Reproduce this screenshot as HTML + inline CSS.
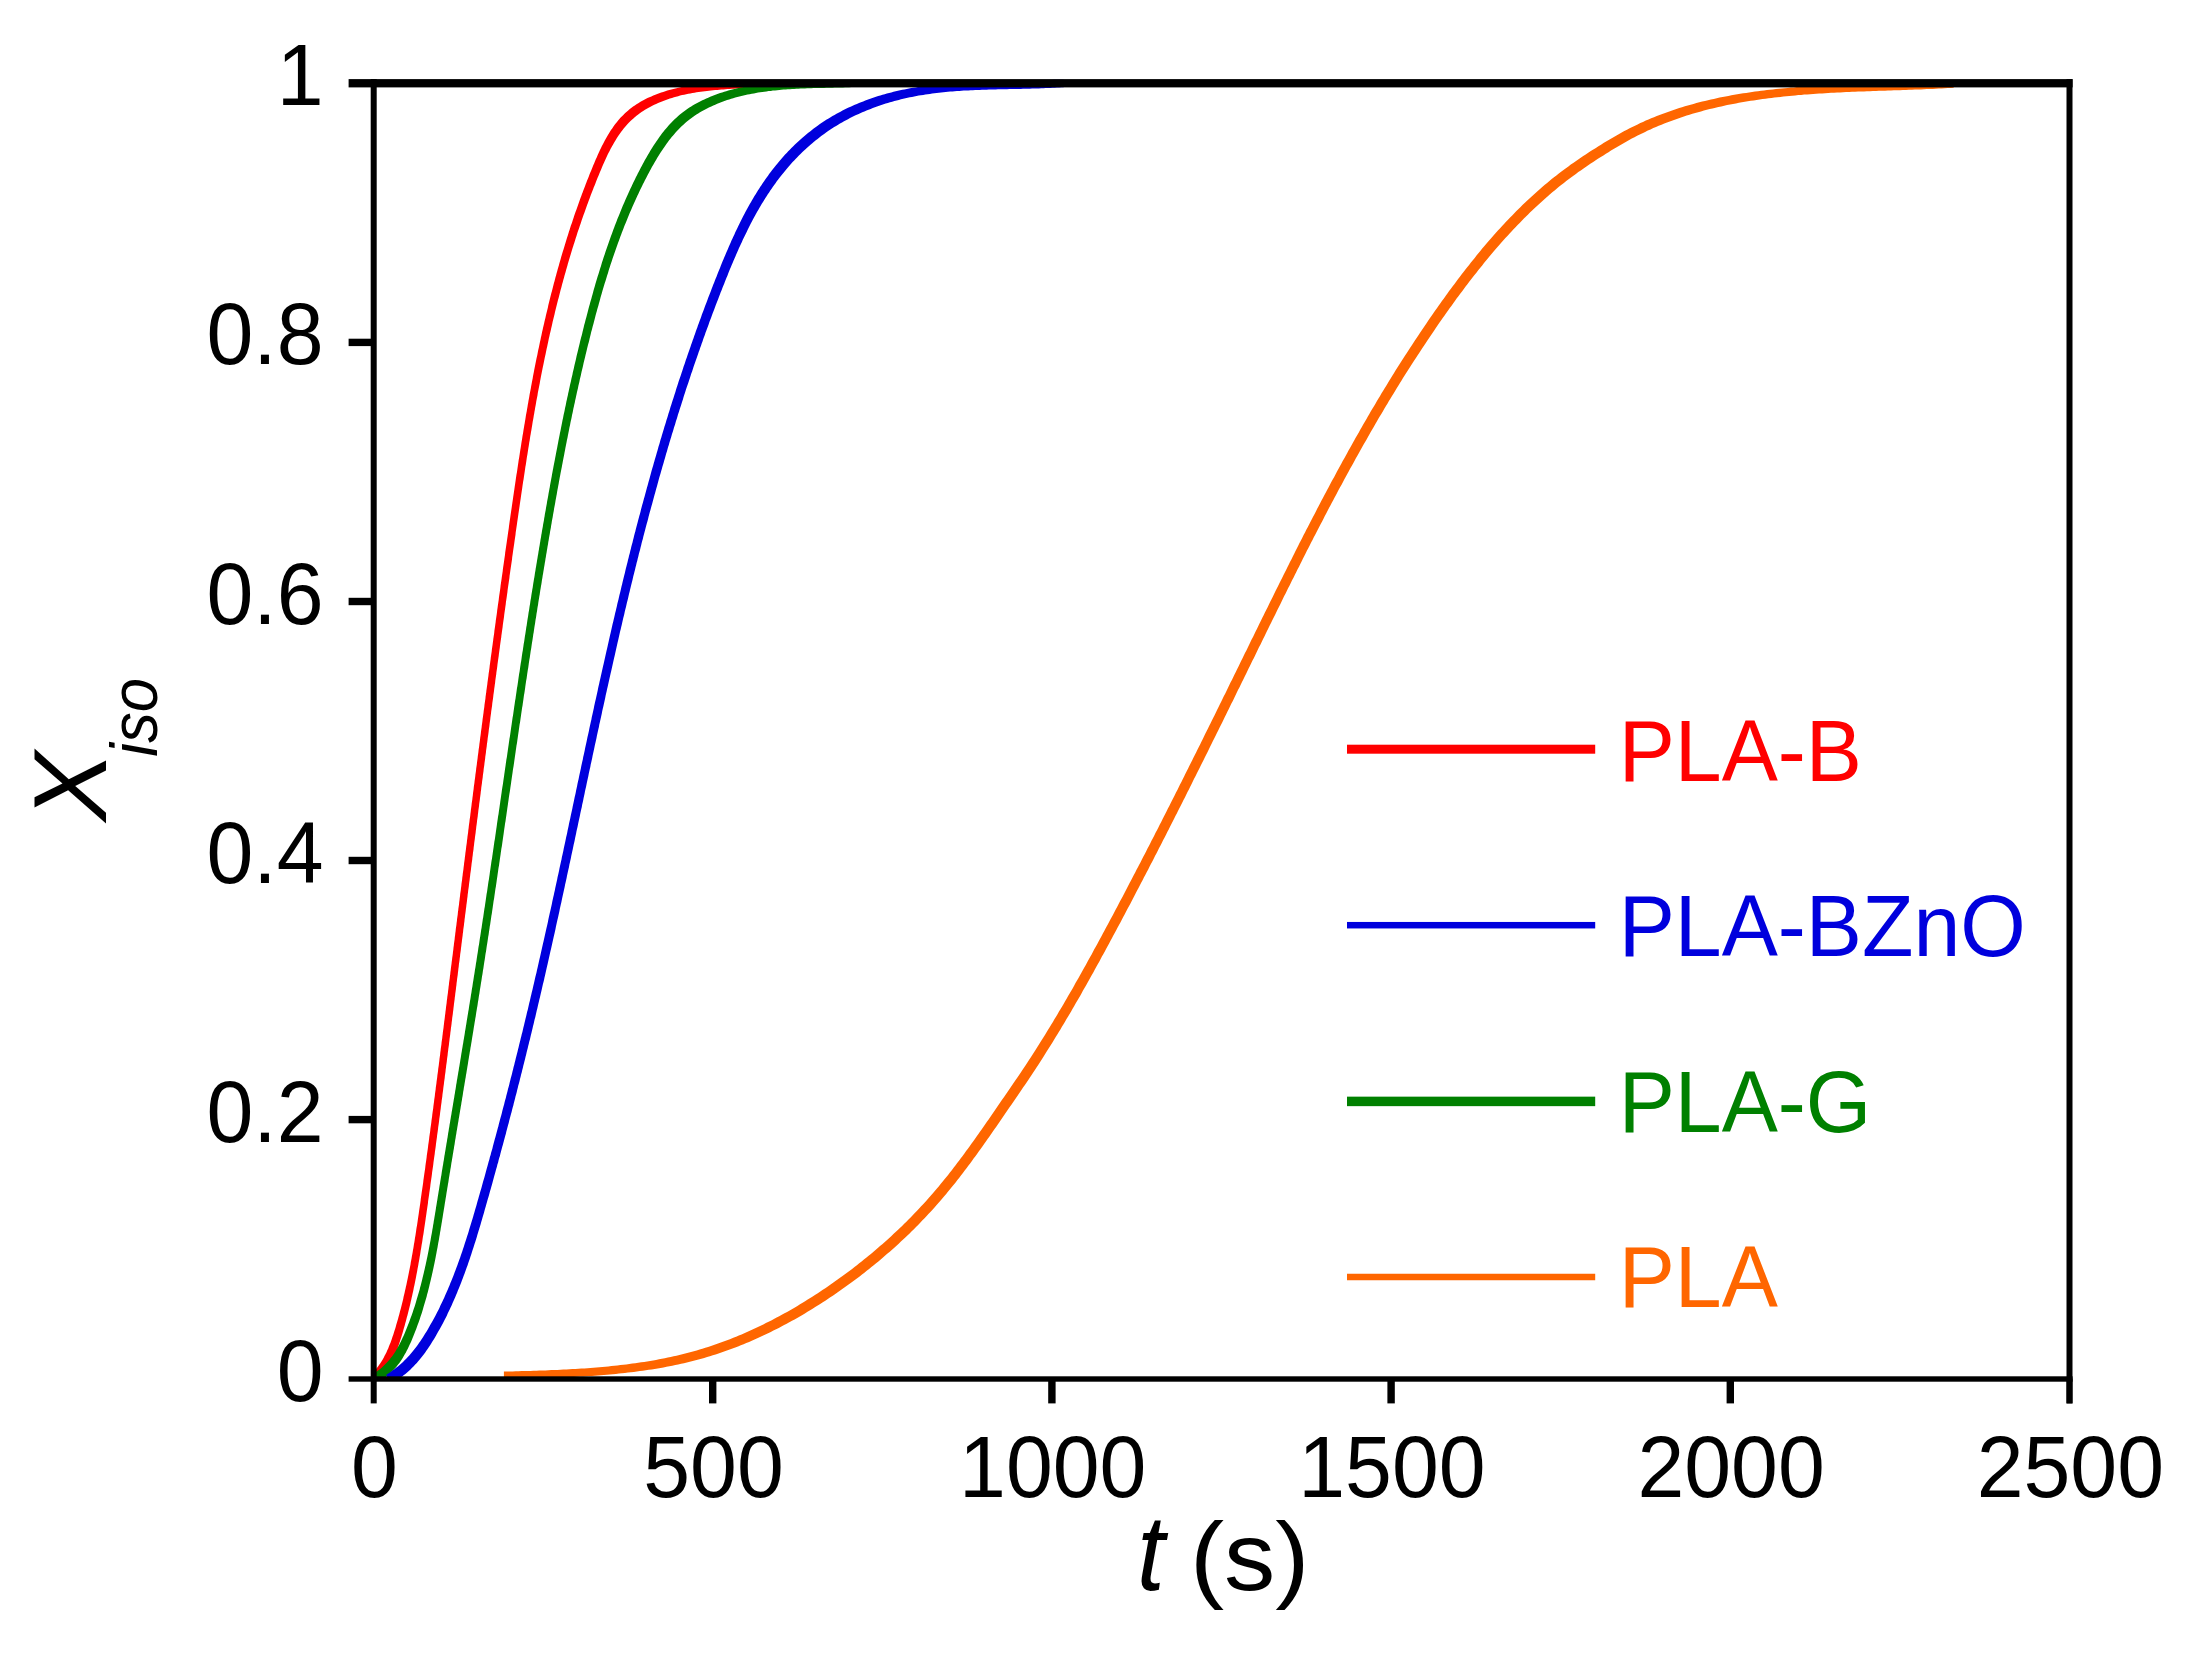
<!DOCTYPE html>
<html lang="en"><head><meta charset="utf-8"><title>Xiso vs t</title>
<style>
html,body{margin:0;padding:0;background:#fff;}
body{width:2200px;height:1654px;overflow:hidden;}
svg{display:block;}
text{font-family:"Liberation Sans",Arial,Helvetica,sans-serif;}
</style></head><body>
<svg xmlns="http://www.w3.org/2000/svg" width="2200" height="1654" viewBox="0 0 2200 1654">
<rect x="0" y="0" width="2200" height="1654" fill="#ffffff"/>

<clipPath id="plotclip"><rect x="373.5" y="79" width="1696.0" height="1301.6"/></clipPath>
<g clip-path="url(#plotclip)">
<polygon points="503.9,1379.1 503.9,1371.6 506.9,1371.5 509.8,1371.5 512.7,1371.4 515.7,1371.3 518.6,1371.2 521.6,1371.1 524.6,1371.0 527.5,1371.0 530.5,1370.9 533.5,1370.8 536.5,1370.7 539.4,1370.6 542.4,1370.5 545.4,1370.4 548.4,1370.2 551.4,1370.1 554.4,1370.0 557.4,1369.9 560.4,1369.7 563.4,1369.6 566.4,1369.4 569.4,1369.3 572.4,1369.1 575.4,1368.9 578.4,1368.8 581.4,1368.6 584.4,1368.4 587.4,1368.2 590.4,1367.9 593.4,1367.7 596.4,1367.5 599.4,1367.2 602.4,1367.0 605.4,1366.7 608.4,1366.4 611.4,1366.1 614.4,1365.8 617.4,1365.5 620.4,1365.1 623.4,1364.8 626.3,1364.4 629.3,1364.0 632.3,1363.6 635.3,1363.2 638.2,1362.8 641.2,1362.3 644.2,1361.9 647.1,1361.4 650.1,1360.9 653.1,1360.4 656.0,1359.9 659.0,1359.3 661.9,1358.8 664.8,1358.2 667.8,1357.6 670.7,1357.0 673.6,1356.3 676.5,1355.7 679.4,1355.0 682.3,1354.3 685.2,1353.5 688.1,1352.8 691.0,1352.0 693.9,1351.2 696.7,1350.4 699.6,1349.6 702.4,1348.7 705.3,1347.8 708.1,1347.0 711.0,1346.0 713.8,1345.1 716.6,1344.1 719.4,1343.1 722.2,1342.1 725.0,1341.0 727.8,1340.0 730.5,1338.9 733.3,1337.8 736.1,1336.7 738.8,1335.6 741.6,1334.4 744.3,1333.2 747.0,1332.0 749.8,1330.8 752.5,1329.6 755.2,1328.3 757.9,1327.0 760.6,1325.8 763.3,1324.5 765.9,1323.1 768.6,1321.8 771.3,1320.4 773.9,1319.0 776.6,1317.6 779.2,1316.2 781.8,1314.8 784.5,1313.3 787.1,1311.9 789.7,1310.4 792.3,1308.9 794.9,1307.4 797.4,1305.9 800.0,1304.3 802.6,1302.8 805.1,1301.2 807.7,1299.6 810.2,1298.0 812.7,1296.4 815.3,1294.8 817.8,1293.2 820.3,1291.5 822.8,1289.8 825.3,1288.2 827.8,1286.5 830.2,1284.8 832.7,1283.0 835.1,1281.3 837.6,1279.6 840.0,1277.8 842.5,1276.1 844.9,1274.3 847.3,1272.5 849.7,1270.7 852.1,1268.9 854.5,1267.0 856.9,1265.2 859.2,1263.3 861.6,1261.5 863.9,1259.6 866.2,1257.7 868.6,1255.8 870.9,1253.9 873.2,1252.0 875.5,1250.0 877.8,1248.1 880.0,1246.1 882.3,1244.2 884.5,1242.2 886.8,1240.2 889.0,1238.2 891.2,1236.2 893.4,1234.1 895.6,1232.1 897.8,1230.0 899.9,1227.9 902.1,1225.9 904.2,1223.8 906.4,1221.7 908.5,1219.5 910.6,1217.4 912.7,1215.3 914.8,1213.1 916.8,1211.0 918.9,1208.8 920.9,1206.6 922.9,1204.4 925.0,1202.2 927.0,1200.0 928.9,1197.8 930.9,1195.5 932.9,1193.3 934.8,1191.0 936.7,1188.7 938.7,1186.4 940.6,1184.1 942.5,1181.8 944.3,1179.5 946.2,1177.2 948.1,1174.9 949.9,1172.5 951.8,1170.2 953.6,1167.8 955.4,1165.4 957.2,1163.1 959.0,1160.7 960.8,1158.3 962.6,1155.9 964.4,1153.5 966.1,1151.1 967.9,1148.7 969.7,1146.2 971.4,1143.8 973.1,1141.4 974.9,1139.0 976.6,1136.5 978.4,1134.1 980.1,1131.6 981.8,1129.2 983.5,1126.7 985.2,1124.3 986.9,1121.8 988.6,1119.4 990.3,1116.9 992.0,1114.4 993.7,1112.0 995.4,1109.5 997.1,1107.0 998.8,1104.6 1000.5,1102.1 1002.2,1099.6 1003.9,1097.2 1005.6,1094.7 1007.3,1092.2 1009.0,1089.8 1010.7,1087.3 1012.4,1084.8 1014.1,1082.3 1015.8,1079.8 1017.4,1077.4 1019.1,1074.9 1020.8,1072.4 1022.4,1069.9 1024.1,1067.4 1025.8,1064.9 1027.4,1062.4 1029.0,1059.9 1030.7,1057.4 1032.3,1054.9 1033.9,1052.4 1035.5,1049.9 1037.2,1047.3 1038.8,1044.8 1040.3,1042.3 1041.9,1039.8 1043.5,1037.2 1045.1,1034.7 1046.7,1032.1 1048.2,1029.6 1049.8,1027.0 1051.3,1024.5 1052.9,1021.9 1054.4,1019.3 1056.0,1016.8 1057.5,1014.2 1059.0,1011.6 1060.6,1009.1 1062.1,1006.5 1063.6,1003.9 1065.1,1001.3 1066.6,998.7 1068.1,996.1 1069.6,993.5 1071.1,991.0 1072.6,988.4 1074.1,985.8 1075.5,983.1 1077.0,980.5 1078.5,977.9 1080.0,975.3 1081.4,972.7 1082.9,970.1 1084.3,967.5 1085.8,964.9 1087.2,962.2 1088.7,959.6 1090.1,957.0 1091.6,954.4 1093.0,951.8 1094.4,949.1 1095.9,946.5 1097.3,943.9 1098.7,941.2 1100.2,938.6 1101.6,936.0 1103.0,933.3 1104.4,930.7 1105.8,928.1 1107.2,925.4 1108.7,922.8 1110.1,920.1 1111.5,917.5 1112.9,914.9 1114.3,912.2 1115.7,909.6 1117.1,906.9 1118.5,904.3 1119.9,901.6 1121.3,899.0 1122.7,896.4 1124.1,893.7 1125.5,891.0 1126.8,888.4 1128.2,885.8 1129.6,883.1 1131.0,880.4 1132.4,877.8 1133.8,875.1 1135.2,872.5 1136.5,869.8 1137.9,867.2 1139.3,864.5 1140.7,861.9 1142.0,859.2 1143.4,856.5 1144.8,853.9 1146.2,851.2 1147.5,848.6 1148.9,845.9 1150.3,843.2 1151.6,840.6 1153.0,837.9 1154.4,835.2 1155.7,832.6 1157.1,829.9 1158.5,827.2 1159.8,824.6 1161.2,821.9 1162.5,819.2 1163.9,816.6 1165.2,813.9 1166.6,811.2 1167.9,808.6 1169.3,805.9 1170.6,803.2 1172.0,800.6 1173.3,797.9 1174.7,795.2 1176.0,792.5 1177.4,789.9 1178.7,787.2 1180.0,784.5 1181.4,781.9 1182.7,779.2 1184.1,776.5 1185.4,773.8 1186.8,771.1 1188.1,768.5 1189.4,765.8 1190.8,763.1 1192.1,760.4 1193.4,757.8 1194.8,755.1 1196.1,752.4 1197.4,749.7 1198.8,747.0 1200.1,744.4 1201.4,741.7 1202.8,739.0 1204.1,736.3 1205.4,733.6 1206.7,731.0 1208.1,728.3 1209.4,725.6 1210.7,722.9 1212.0,720.2 1213.4,717.5 1214.7,714.9 1216.0,712.2 1217.3,709.5 1218.7,706.8 1220.0,704.1 1221.3,701.4 1222.6,698.7 1223.9,696.1 1225.3,693.4 1226.6,690.7 1227.9,688.0 1229.2,685.3 1230.5,682.6 1231.9,679.9 1233.2,677.3 1234.5,674.6 1235.8,671.9 1237.1,669.2 1238.5,666.5 1239.8,663.8 1241.1,661.1 1242.4,658.5 1243.7,655.8 1245.0,653.1 1246.4,650.4 1247.7,647.7 1249.0,645.0 1250.3,642.3 1251.6,639.6 1253.0,637.0 1254.3,634.3 1255.6,631.6 1256.9,628.9 1258.2,626.2 1259.5,623.5 1260.9,620.8 1262.2,618.1 1263.5,615.5 1264.8,612.8 1266.2,610.1 1267.5,607.4 1268.8,604.7 1270.1,602.0 1271.4,599.4 1272.8,596.7 1274.1,594.0 1275.4,591.3 1276.8,588.6 1278.1,585.9 1279.4,583.3 1280.8,580.6 1282.1,577.9 1283.4,575.2 1284.8,572.5 1286.1,569.9 1287.4,567.2 1288.8,564.5 1290.1,561.8 1291.5,559.2 1292.8,556.5 1294.2,553.8 1295.5,551.1 1296.8,548.5 1298.2,545.8 1299.5,543.1 1300.9,540.5 1302.3,537.8 1303.6,535.1 1305.0,532.5 1306.3,529.8 1307.7,527.2 1309.1,524.5 1310.5,521.8 1311.8,519.2 1313.2,516.5 1314.6,513.9 1316.0,511.2 1317.3,508.6 1318.7,505.9 1320.1,503.3 1321.5,500.6 1322.9,498.0 1324.3,495.3 1325.7,492.7 1327.1,490.0 1328.5,487.4 1329.9,484.8 1331.3,482.1 1332.7,479.5 1334.2,476.9 1335.6,474.2 1337.0,471.6 1338.4,469.0 1339.9,466.3 1341.3,463.7 1342.7,461.1 1344.2,458.5 1345.6,455.9 1347.1,453.2 1348.5,450.6 1350.0,448.0 1351.4,445.4 1352.9,442.8 1354.3,440.2 1355.8,437.6 1357.3,435.0 1358.8,432.4 1360.2,429.8 1361.7,427.2 1363.2,424.6 1364.7,422.0 1366.2,419.4 1367.7,416.8 1369.2,414.2 1370.7,411.6 1372.2,409.0 1373.8,406.5 1375.3,403.9 1376.8,401.3 1378.3,398.7 1379.9,396.2 1381.4,393.6 1383.0,391.0 1384.5,388.5 1386.1,385.9 1387.6,383.4 1389.2,380.8 1390.8,378.3 1392.3,375.7 1393.9,373.2 1395.5,370.6 1397.1,368.1 1398.7,365.6 1400.3,363.0 1401.9,360.5 1403.5,358.0 1405.1,355.4 1406.8,352.9 1408.4,350.4 1410.0,347.9 1411.7,345.4 1413.3,342.9 1414.9,340.4 1416.6,337.9 1418.3,335.4 1419.9,332.9 1421.6,330.4 1423.3,327.9 1425.0,325.4 1426.7,322.9 1428.3,320.5 1430.0,318.0 1431.8,315.5 1433.5,313.1 1435.2,310.6 1436.9,308.2 1438.6,305.7 1440.4,303.3 1442.1,300.8 1443.9,298.4 1445.6,296.0 1447.4,293.5 1449.1,291.1 1450.9,288.7 1452.7,286.3 1454.5,283.9 1456.3,281.5 1458.1,279.1 1459.9,276.7 1461.7,274.3 1463.5,272.0 1465.4,269.6 1467.2,267.2 1469.1,264.9 1470.9,262.5 1472.8,260.2 1474.7,257.9 1476.5,255.5 1478.4,253.2 1480.3,250.9 1482.2,248.6 1484.2,246.3 1486.1,244.1 1488.0,241.8 1490.0,239.5 1492.0,237.3 1493.9,235.0 1495.9,232.8 1497.9,230.6 1499.9,228.4 1501.9,226.2 1504.0,224.0 1506.0,221.8 1508.0,219.7 1510.1,217.5 1512.2,215.4 1514.3,213.2 1516.4,211.1 1518.5,209.0 1520.6,206.9 1522.7,204.8 1524.9,202.8 1527.0,200.7 1529.2,198.7 1531.4,196.7 1533.6,194.7 1535.8,192.7 1538.0,190.7 1540.3,188.7 1542.5,186.8 1544.8,184.8 1547.1,182.9 1549.4,181.0 1551.7,179.1 1554.0,177.3 1556.4,175.4 1558.8,173.6 1561.1,171.7 1563.5,169.9 1565.9,168.2 1568.4,166.4 1570.8,164.6 1573.2,162.9 1575.7,161.2 1578.2,159.5 1580.7,157.8 1583.2,156.1 1585.7,154.4 1588.2,152.8 1590.8,151.1 1593.3,149.5 1595.9,147.9 1598.4,146.3 1601.0,144.7 1603.5,143.1 1606.1,141.6 1608.7,140.0 1611.3,138.5 1613.9,137.0 1616.5,135.5 1619.1,134.0 1621.7,132.6 1624.3,131.1 1627.0,129.7 1629.6,128.3 1632.3,127.0 1635.0,125.7 1637.6,124.4 1640.3,123.1 1643.0,121.9 1645.8,120.6 1648.5,119.5 1651.2,118.3 1654.0,117.2 1656.8,116.1 1659.5,115.0 1662.3,113.9 1665.1,112.9 1667.9,111.9 1670.7,110.9 1673.5,110.0 1676.4,109.0 1679.2,108.1 1682.0,107.2 1684.9,106.3 1687.8,105.5 1690.6,104.7 1693.5,103.9 1696.4,103.1 1699.3,102.3 1702.2,101.6 1705.0,100.9 1708.0,100.2 1710.9,99.5 1713.8,98.9 1716.7,98.2 1719.6,97.6 1722.6,97.0 1725.5,96.4 1728.4,95.9 1731.4,95.3 1734.3,94.8 1737.3,94.3 1740.2,93.8 1743.2,93.3 1746.2,92.9 1749.1,92.4 1752.1,92.0 1755.0,91.6 1758.0,91.2 1761.0,90.8 1764.0,90.4 1766.9,90.0 1769.9,89.7 1772.9,89.4 1775.9,89.0 1778.8,88.7 1781.8,88.4 1784.8,88.2 1787.8,87.9 1790.8,87.6 1793.8,87.4 1796.7,87.1 1799.7,86.9 1802.7,86.7 1805.7,86.5 1808.7,86.2 1811.7,86.0 1814.7,85.9 1817.6,85.7 1820.6,85.5 1823.6,85.3 1826.6,85.2 1829.6,85.0 1832.6,84.9 1835.6,84.7 1838.6,84.6 1841.6,84.5 1844.6,84.3 1847.6,84.2 1850.6,84.1 1853.5,84.0 1856.5,83.9 1859.5,83.8 1862.5,83.7 1865.5,83.5 1868.5,83.5 1871.5,83.3 1874.5,83.2 1877.5,83.2 1880.5,83.0 1883.5,83.0 1886.5,82.8 1889.5,82.8 1892.5,82.7 1895.5,82.5 1898.5,82.5 1901.5,82.3 1904.4,82.2 1907.4,82.1 1910.4,82.0 1913.4,81.9 1916.4,81.8 1919.4,81.6 1922.4,81.5 1925.3,81.4 1928.3,81.2 1931.3,81.1 1934.3,80.9 1937.3,80.8 1940.3,80.6 1943.2,80.5 1946.2,80.3 1953.7,80.3 1953.7,87.8 1950.7,88.0 1947.8,88.1 1944.8,88.3 1941.8,88.4 1938.8,88.6 1935.8,88.7 1932.8,88.9 1929.9,89.0 1926.9,89.1 1923.9,89.3 1920.9,89.4 1917.9,89.5 1914.9,89.6 1911.9,89.7 1909.0,89.8 1906.0,90.0 1903.0,90.0 1900.0,90.2 1897.0,90.2 1894.0,90.3 1891.0,90.5 1888.0,90.5 1885.0,90.7 1882.0,90.8 1879.0,90.8 1876.0,91.0 1873.0,91.0 1870.0,91.2 1867.0,91.3 1864.0,91.4 1861.0,91.5 1858.1,91.6 1855.1,91.7 1852.1,91.8 1849.1,92.0 1846.1,92.1 1843.1,92.2 1840.1,92.4 1837.1,92.5 1834.1,92.7 1831.1,92.8 1828.1,93.0 1825.1,93.2 1822.2,93.4 1819.2,93.5 1816.2,93.8 1813.2,94.0 1810.2,94.2 1807.2,94.4 1804.2,94.6 1801.2,94.9 1798.3,95.1 1795.3,95.4 1792.3,95.7 1789.3,95.9 1786.3,96.2 1783.4,96.5 1780.4,96.9 1777.4,97.2 1774.4,97.5 1771.5,97.9 1768.5,98.3 1765.5,98.7 1762.5,99.1 1759.6,99.5 1756.6,99.9 1753.7,100.4 1750.7,100.8 1747.7,101.3 1744.8,101.8 1741.8,102.3 1738.9,102.8 1735.9,103.4 1733.0,103.9 1730.1,104.5 1727.1,105.1 1724.2,105.7 1721.3,106.4 1718.4,107.0 1715.5,107.7 1712.5,108.4 1709.7,109.1 1706.8,109.8 1703.9,110.6 1701.0,111.4 1698.1,112.2 1695.2,113.0 1692.4,113.8 1689.5,114.7 1686.7,115.6 1683.9,116.5 1681.0,117.5 1678.2,118.4 1675.4,119.4 1672.6,120.4 1669.8,121.4 1667.0,122.5 1664.3,123.6 1661.5,124.7 1658.7,125.8 1656.0,127.0 1653.3,128.1 1650.5,129.4 1647.8,130.6 1645.1,131.9 1642.5,133.2 1639.8,134.5 1637.1,135.8 1634.5,137.2 1631.8,138.6 1629.2,140.1 1626.6,141.5 1624.0,143.0 1621.4,144.5 1618.8,146.0 1616.2,147.5 1613.6,149.1 1611.0,150.6 1608.5,152.2 1605.9,153.8 1603.4,155.4 1600.8,157.0 1598.3,158.6 1595.7,160.3 1593.2,161.9 1590.7,163.6 1588.2,165.3 1585.7,167.0 1583.2,168.7 1580.8,170.4 1578.3,172.1 1575.9,173.9 1573.4,175.7 1571.0,177.4 1568.6,179.2 1566.2,181.1 1563.9,182.9 1561.5,184.8 1559.2,186.6 1556.9,188.5 1554.6,190.4 1552.3,192.3 1550.0,194.3 1547.8,196.2 1545.5,198.2 1543.3,200.2 1541.1,202.2 1538.9,204.2 1536.7,206.2 1534.5,208.2 1532.4,210.3 1530.2,212.3 1528.1,214.4 1526.0,216.5 1523.9,218.6 1521.8,220.7 1519.7,222.9 1517.6,225.0 1515.5,227.2 1513.5,229.3 1511.5,231.5 1509.4,233.7 1507.4,235.9 1505.4,238.1 1503.4,240.3 1501.4,242.5 1499.5,244.8 1497.5,247.0 1495.5,249.3 1493.6,251.6 1491.7,253.8 1489.8,256.1 1487.8,258.4 1485.9,260.7 1484.0,263.0 1482.2,265.4 1480.3,267.7 1478.4,270.0 1476.6,272.4 1474.7,274.7 1472.9,277.1 1471.0,279.5 1469.2,281.8 1467.4,284.2 1465.6,286.6 1463.8,289.0 1462.0,291.4 1460.2,293.8 1458.4,296.2 1456.6,298.6 1454.9,301.0 1453.1,303.5 1451.4,305.9 1449.6,308.3 1447.9,310.8 1446.1,313.2 1444.4,315.7 1442.7,318.1 1441.0,320.6 1439.2,323.0 1437.5,325.5 1435.8,328.0 1434.2,330.4 1432.5,332.9 1430.8,335.4 1429.1,337.9 1427.4,340.4 1425.8,342.9 1424.1,345.4 1422.4,347.9 1420.8,350.4 1419.2,352.9 1417.5,355.4 1415.9,357.9 1414.2,360.4 1412.6,362.9 1411.0,365.5 1409.4,368.0 1407.8,370.5 1406.2,373.1 1404.6,375.6 1403.0,378.1 1401.4,380.7 1399.8,383.2 1398.3,385.8 1396.7,388.3 1395.1,390.9 1393.6,393.4 1392.0,396.0 1390.5,398.5 1388.9,401.1 1387.4,403.7 1385.8,406.2 1384.3,408.8 1382.8,411.4 1381.3,414.0 1379.7,416.5 1378.2,419.1 1376.7,421.7 1375.2,424.3 1373.7,426.9 1372.2,429.5 1370.7,432.1 1369.2,434.7 1367.8,437.3 1366.3,439.9 1364.8,442.5 1363.3,445.1 1361.8,447.7 1360.4,450.3 1358.9,452.9 1357.5,455.5 1356.0,458.1 1354.6,460.7 1353.1,463.4 1351.7,466.0 1350.2,468.6 1348.8,471.2 1347.4,473.8 1345.9,476.5 1344.5,479.1 1343.1,481.7 1341.7,484.4 1340.2,487.0 1338.8,489.6 1337.4,492.3 1336.0,494.9 1334.6,497.5 1333.2,500.2 1331.8,502.8 1330.4,505.5 1329.0,508.1 1327.6,510.8 1326.2,513.4 1324.8,516.1 1323.5,518.7 1322.1,521.4 1320.7,524.0 1319.3,526.7 1318.0,529.3 1316.6,532.0 1315.2,534.7 1313.8,537.3 1312.5,540.0 1311.1,542.6 1309.8,545.3 1308.4,548.0 1307.0,550.6 1305.7,553.3 1304.3,556.0 1303.0,558.6 1301.7,561.3 1300.3,564.0 1299.0,566.7 1297.6,569.3 1296.3,572.0 1294.9,574.7 1293.6,577.4 1292.2,580.0 1290.9,582.7 1289.6,585.4 1288.2,588.1 1286.9,590.8 1285.6,593.4 1284.2,596.1 1282.9,598.8 1281.6,601.5 1280.3,604.2 1278.9,606.9 1277.6,609.5 1276.3,612.2 1275.0,614.9 1273.7,617.6 1272.3,620.3 1271.0,623.0 1269.7,625.6 1268.4,628.3 1267.0,631.0 1265.7,633.7 1264.4,636.4 1263.1,639.1 1261.8,641.8 1260.5,644.5 1259.1,647.1 1257.8,649.8 1256.5,652.5 1255.2,655.2 1253.9,657.9 1252.5,660.6 1251.2,663.3 1249.9,666.0 1248.6,668.6 1247.3,671.3 1246.0,674.0 1244.6,676.7 1243.3,679.4 1242.0,682.1 1240.7,684.8 1239.4,687.4 1238.0,690.1 1236.7,692.8 1235.4,695.5 1234.1,698.2 1232.8,700.9 1231.4,703.6 1230.1,706.2 1228.8,708.9 1227.5,711.6 1226.2,714.3 1224.8,717.0 1223.5,719.7 1222.2,722.4 1220.9,725.0 1219.5,727.7 1218.2,730.4 1216.9,733.1 1215.6,735.8 1214.2,738.5 1212.9,741.1 1211.6,743.8 1210.2,746.5 1208.9,749.2 1207.6,751.9 1206.3,754.5 1204.9,757.2 1203.6,759.9 1202.3,762.6 1200.9,765.2 1199.6,767.9 1198.3,770.6 1196.9,773.3 1195.6,776.0 1194.2,778.6 1192.9,781.3 1191.6,784.0 1190.2,786.7 1188.9,789.4 1187.5,792.0 1186.2,794.7 1184.9,797.4 1183.5,800.0 1182.2,802.7 1180.8,805.4 1179.5,808.1 1178.1,810.7 1176.8,813.4 1175.4,816.1 1174.1,818.7 1172.7,821.4 1171.4,824.1 1170.0,826.8 1168.7,829.4 1167.3,832.1 1166.0,834.8 1164.6,837.4 1163.2,840.1 1161.9,842.7 1160.5,845.4 1159.1,848.1 1157.8,850.7 1156.4,853.4 1155.0,856.1 1153.7,858.7 1152.3,861.4 1150.9,864.0 1149.5,866.7 1148.2,869.4 1146.8,872.0 1145.4,874.7 1144.0,877.3 1142.7,880.0 1141.3,882.6 1139.9,885.3 1138.5,887.9 1137.1,890.6 1135.7,893.2 1134.3,895.9 1133.0,898.5 1131.6,901.2 1130.2,903.9 1128.8,906.5 1127.4,909.1 1126.0,911.8 1124.6,914.4 1123.2,917.1 1121.8,919.7 1120.4,922.4 1119.0,925.0 1117.6,927.6 1116.2,930.3 1114.7,932.9 1113.3,935.6 1111.9,938.2 1110.5,940.8 1109.1,943.5 1107.7,946.1 1106.2,948.7 1104.8,951.4 1103.4,954.0 1101.9,956.6 1100.5,959.3 1099.1,961.9 1097.6,964.5 1096.2,967.1 1094.7,969.8 1093.3,972.4 1091.8,975.0 1090.4,977.6 1088.9,980.2 1087.5,982.8 1086.0,985.4 1084.5,988.0 1083.0,990.6 1081.6,993.2 1080.1,995.9 1078.6,998.5 1077.1,1001.0 1075.6,1003.6 1074.1,1006.2 1072.6,1008.8 1071.1,1011.4 1069.6,1014.0 1068.1,1016.6 1066.5,1019.1 1065.0,1021.7 1063.5,1024.3 1061.9,1026.8 1060.4,1029.4 1058.8,1032.0 1057.3,1034.5 1055.7,1037.1 1054.2,1039.6 1052.6,1042.2 1051.0,1044.7 1049.4,1047.2 1047.8,1049.8 1046.2,1052.3 1044.7,1054.8 1043.0,1057.4 1041.4,1059.9 1039.8,1062.4 1038.2,1064.9 1036.5,1067.4 1034.9,1069.9 1033.2,1072.4 1031.6,1074.9 1029.9,1077.4 1028.3,1079.9 1026.6,1082.4 1024.9,1084.9 1023.2,1087.3 1021.6,1089.8 1019.9,1092.3 1018.2,1094.8 1016.5,1097.2 1014.8,1099.7 1013.1,1102.2 1011.4,1104.7 1009.7,1107.1 1008.0,1109.6 1006.3,1112.1 1004.6,1114.5 1002.9,1117.0 1001.2,1119.5 999.5,1121.9 997.8,1124.4 996.1,1126.9 994.4,1129.3 992.7,1131.8 991.0,1134.2 989.3,1136.7 987.6,1139.1 985.9,1141.6 984.1,1144.0 982.4,1146.5 980.6,1148.9 978.9,1151.3 977.2,1153.8 975.4,1156.2 973.6,1158.6 971.9,1161.0 970.1,1163.4 968.3,1165.8 966.5,1168.2 964.7,1170.6 962.9,1172.9 961.1,1175.3 959.3,1177.7 957.4,1180.0 955.6,1182.4 953.7,1184.7 951.8,1187.0 950.0,1189.3 948.1,1191.6 946.2,1193.9 944.2,1196.2 942.3,1198.5 940.4,1200.8 938.4,1203.0 936.4,1205.3 934.5,1207.5 932.5,1209.7 930.4,1211.9 928.4,1214.1 926.4,1216.3 924.3,1218.5 922.2,1220.6 920.2,1222.8 918.1,1224.9 916.0,1227.0 913.9,1229.2 911.7,1231.3 909.6,1233.4 907.4,1235.4 905.3,1237.5 903.1,1239.6 900.9,1241.6 898.7,1243.7 896.5,1245.7 894.3,1247.7 892.0,1249.7 889.8,1251.7 887.5,1253.6 885.2,1255.6 883.0,1257.5 880.7,1259.5 878.4,1261.4 876.1,1263.3 873.7,1265.2 871.4,1267.1 869.1,1269.0 866.7,1270.8 864.4,1272.7 862.0,1274.5 859.6,1276.4 857.2,1278.2 854.8,1280.0 852.4,1281.8 850.0,1283.6 847.5,1285.3 845.1,1287.1 842.6,1288.8 840.2,1290.5 837.7,1292.3 835.3,1294.0 832.8,1295.7 830.3,1297.3 827.8,1299.0 825.3,1300.7 822.8,1302.3 820.2,1303.9 817.7,1305.5 815.2,1307.1 812.6,1308.7 810.1,1310.3 807.5,1311.8 804.9,1313.4 802.4,1314.9 799.8,1316.4 797.2,1317.9 794.6,1319.4 792.0,1320.8 789.3,1322.3 786.7,1323.7 784.1,1325.1 781.4,1326.5 778.8,1327.9 776.1,1329.3 773.4,1330.6 770.8,1332.0 768.1,1333.3 765.4,1334.5 762.7,1335.8 760.0,1337.1 757.3,1338.3 754.5,1339.5 751.8,1340.7 749.1,1341.9 746.3,1343.1 743.6,1344.2 740.8,1345.3 738.0,1346.4 735.3,1347.5 732.5,1348.5 729.7,1349.6 726.9,1350.6 724.1,1351.6 721.3,1352.6 718.5,1353.5 715.6,1354.5 712.8,1355.3 709.9,1356.2 707.1,1357.1 704.2,1357.9 701.4,1358.8 698.5,1359.5 695.6,1360.3 692.7,1361.0 689.8,1361.8 686.9,1362.5 684.0,1363.2 681.1,1363.8 678.2,1364.5 675.3,1365.1 672.3,1365.7 669.4,1366.3 666.5,1366.8 663.5,1367.4 660.6,1367.9 657.6,1368.4 654.6,1368.9 651.7,1369.4 648.7,1369.8 645.8,1370.3 642.8,1370.7 639.8,1371.1 636.8,1371.5 633.8,1371.9 630.9,1372.3 627.9,1372.6 624.9,1373.0 621.9,1373.3 618.9,1373.6 615.9,1373.9 612.9,1374.2 609.9,1374.5 606.9,1374.7 603.9,1375.0 600.9,1375.2 597.9,1375.4 594.9,1375.7 591.9,1375.9 588.9,1376.1 585.9,1376.3 582.9,1376.4 579.9,1376.6 576.9,1376.8 573.9,1376.9 570.9,1377.1 567.9,1377.2 564.9,1377.4 561.9,1377.5 558.9,1377.6 555.9,1377.8 552.9,1377.9 549.9,1378.0 546.9,1378.1 544.0,1378.2 541.0,1378.3 538.0,1378.4 535.0,1378.5 532.1,1378.5 529.1,1378.6 526.1,1378.7 523.2,1378.8 520.2,1378.9 517.3,1379.0 514.4,1379.0 511.4,1379.1" fill="#ff6600"/>
<polygon points="374.2,1377.9 374.2,1371.2 375.6,1369.6 376.9,1368.0 378.2,1366.3 379.4,1364.6 380.5,1362.9 381.6,1361.2 382.7,1359.4 383.7,1357.7 384.6,1355.8 385.6,1354.0 386.5,1352.2 387.3,1350.3 388.2,1348.4 388.9,1346.5 389.7,1344.6 390.5,1342.7 391.2,1340.7 391.9,1338.8 392.5,1336.8 393.2,1334.9 393.8,1332.9 394.4,1330.9 395.1,1328.9 395.7,1326.9 396.2,1324.9 396.8,1322.9 397.4,1320.9 398.0,1318.9 398.5,1316.9 399.1,1314.9 399.6,1312.9 400.1,1310.9 400.7,1308.9 401.2,1306.9 401.7,1304.9 402.2,1302.9 402.7,1300.9 403.2,1298.9 403.6,1296.8 404.1,1294.8 404.6,1292.8 405.0,1290.8 405.5,1288.8 405.9,1286.7 406.4,1284.7 406.8,1282.7 407.2,1280.7 407.7,1278.6 408.1,1276.6 408.5,1274.6 408.9,1272.5 409.3,1270.5 409.7,1268.5 410.1,1266.4 410.5,1264.4 410.8,1262.3 411.2,1260.3 411.6,1258.3 411.9,1256.2 412.3,1254.2 412.7,1252.1 413.0,1250.1 413.4,1248.0 413.7,1246.0 414.0,1243.9 414.4,1241.9 414.7,1239.9 415.0,1237.8 415.4,1235.8 415.7,1233.7 416.0,1231.7 416.3,1229.6 416.6,1227.5 417.0,1225.5 417.3,1223.4 417.6,1221.4 417.9,1219.3 418.2,1217.3 418.5,1215.2 418.8,1213.2 419.1,1211.1 419.4,1209.1 419.7,1207.0 420.0,1204.9 420.3,1202.9 420.6,1200.8 420.8,1198.8 421.1,1196.7 421.4,1194.7 421.7,1192.6 422.0,1190.5 422.3,1188.5 422.6,1186.4 422.9,1184.4 423.2,1182.3 423.4,1180.2 423.7,1178.2 424.0,1176.1 424.3,1174.1 424.6,1172.0 424.9,1170.0 425.2,1167.9 425.4,1165.9 425.7,1163.8 426.0,1161.7 426.3,1159.7 426.6,1157.6 426.8,1155.6 427.1,1153.5 427.4,1151.5 427.7,1149.4 428.0,1147.3 428.2,1145.3 428.5,1143.2 428.8,1141.2 429.1,1139.1 429.3,1137.0 429.6,1135.0 429.9,1132.9 430.2,1130.9 430.4,1128.8 430.7,1126.8 431.0,1124.7 431.3,1122.6 431.5,1120.6 431.8,1118.5 432.1,1116.5 432.3,1114.4 432.6,1112.3 432.9,1110.3 433.2,1108.2 433.4,1106.2 433.7,1104.1 434.0,1102.1 434.2,1100.0 434.5,1097.9 434.8,1095.9 435.0,1093.8 435.3,1091.8 435.6,1089.7 435.8,1087.6 436.1,1085.6 436.4,1083.5 436.6,1081.5 436.9,1079.4 437.2,1077.3 437.4,1075.3 437.7,1073.2 438.0,1071.2 438.2,1069.1 438.5,1067.1 438.8,1065.0 439.0,1062.9 439.3,1060.9 439.5,1058.8 439.8,1056.8 440.1,1054.7 440.3,1052.6 440.6,1050.6 440.8,1048.5 441.1,1046.5 441.4,1044.4 441.6,1042.3 441.9,1040.3 442.2,1038.2 442.4,1036.2 442.7,1034.1 442.9,1032.0 443.2,1030.0 443.5,1027.9 443.7,1025.9 444.0,1023.8 444.2,1021.7 444.5,1019.7 444.8,1017.6 445.0,1015.6 445.3,1013.5 445.5,1011.4 445.8,1009.4 446.0,1007.3 446.3,1005.3 446.6,1003.2 446.8,1001.1 447.1,999.1 447.3,997.0 447.6,995.0 447.9,992.9 448.1,990.9 448.4,988.8 448.6,986.7 448.9,984.7 449.1,982.6 449.4,980.6 449.7,978.5 449.9,976.4 450.2,974.4 450.4,972.3 450.7,970.3 450.9,968.2 451.2,966.1 451.5,964.1 451.7,962.0 452.0,960.0 452.2,957.9 452.5,955.9 452.8,953.8 453.0,951.7 453.3,949.7 453.5,947.6 453.8,945.6 454.0,943.5 454.3,941.4 454.6,939.4 454.8,937.3 455.1,935.3 455.3,933.2 455.6,931.2 455.8,929.1 456.1,927.0 456.4,925.0 456.6,922.9 456.9,920.9 457.1,918.8 457.4,916.8 457.7,914.7 457.9,912.6 458.2,910.6 458.4,908.5 458.7,906.5 459.0,904.4 459.2,902.3 459.5,900.3 459.7,898.2 460.0,896.2 460.2,894.1 460.5,892.0 460.8,890.0 461.0,887.9 461.3,885.9 461.5,883.8 461.8,881.8 462.1,879.7 462.3,877.6 462.6,875.6 462.8,873.5 463.1,871.5 463.4,869.4 463.6,867.4 463.9,865.3 464.1,863.2 464.4,861.2 464.7,859.1 464.9,857.1 465.2,855.0 465.4,853.0 465.7,850.9 466.0,848.8 466.2,846.8 466.5,844.7 466.8,842.7 467.0,840.6 467.3,838.5 467.5,836.5 467.8,834.4 468.1,832.4 468.3,830.3 468.6,828.3 468.8,826.2 469.1,824.1 469.4,822.1 469.6,820.0 469.9,818.0 470.2,815.9 470.4,813.9 470.7,811.8 470.9,809.8 471.2,807.7 471.5,805.6 471.7,803.6 472.0,801.5 472.3,799.5 472.5,797.4 472.8,795.4 473.0,793.3 473.3,791.2 473.6,789.2 473.8,787.1 474.1,785.1 474.4,783.0 474.6,780.9 474.9,778.9 475.2,776.8 475.4,774.8 475.7,772.7 476.0,770.7 476.2,768.6 476.5,766.5 476.8,764.5 477.0,762.4 477.3,760.4 477.6,758.3 477.8,756.3 478.1,754.2 478.4,752.1 478.6,750.1 478.9,748.0 479.2,746.0 479.4,743.9 479.7,741.9 480.0,739.8 480.2,737.8 480.5,735.7 480.8,733.6 481.0,731.6 481.3,729.5 481.6,727.5 481.8,725.4 482.1,723.4 482.4,721.3 482.6,719.2 482.9,717.2 483.2,715.1 483.5,713.1 483.7,711.0 484.0,708.9 484.3,706.9 484.5,704.8 484.8,702.8 485.1,700.7 485.4,698.7 485.6,696.6 485.9,694.6 486.2,692.5 486.4,690.4 486.7,688.4 487.0,686.3 487.3,684.3 487.5,682.2 487.8,680.2 488.1,678.1 488.4,676.0 488.6,674.0 488.9,671.9 489.2,669.9 489.5,667.8 489.7,665.8 490.0,663.7 490.3,661.6 490.6,659.6 490.8,657.5 491.1,655.5 491.4,653.4 491.7,651.4 491.9,649.3 492.2,647.2 492.5,645.2 492.8,643.1 493.1,641.1 493.3,639.0 493.6,637.0 493.9,634.9 494.2,632.9 494.4,630.8 494.7,628.7 495.0,626.7 495.3,624.6 495.6,622.6 495.8,620.5 496.1,618.5 496.4,616.4 496.7,614.4 497.0,612.3 497.2,610.2 497.5,608.2 497.8,606.1 498.1,604.1 498.4,602.0 498.7,599.9 498.9,597.9 499.2,595.8 499.5,593.8 499.8,591.7 500.1,589.7 500.4,587.6 500.6,585.5 500.9,583.5 501.2,581.4 501.5,579.4 501.8,577.3 502.1,575.3 502.4,573.2 502.7,571.2 502.9,569.1 503.2,567.0 503.5,565.0 503.8,562.9 504.1,560.9 504.4,558.8 504.7,556.8 505.0,554.7 505.2,552.6 505.5,550.6 505.8,548.5 506.1,546.5 506.4,544.4 506.7,542.4 507.0,540.3 507.3,538.2 507.6,536.2 507.9,534.1 508.2,532.1 508.5,530.0 508.8,528.0 509.0,525.9 509.3,523.9 509.6,521.8 509.9,519.7 510.2,517.7 510.5,515.6 510.8,513.6 511.1,511.5 511.4,509.5 511.7,507.4 512.0,505.3 512.3,503.3 512.6,501.2 512.9,499.2 513.2,497.1 513.5,495.1 513.8,493.0 514.1,490.9 514.4,488.9 514.7,486.8 515.0,484.8 515.3,482.7 515.6,480.7 515.9,478.6 516.2,476.6 516.5,474.5 516.9,472.5 517.2,470.4 517.5,468.3 517.8,466.3 518.1,464.2 518.4,462.2 518.7,460.1 519.1,458.1 519.4,456.0 519.7,454.0 520.0,451.9 520.3,449.9 520.7,447.8 521.0,445.8 521.3,443.7 521.6,441.7 522.0,439.6 522.3,437.6 522.6,435.5 523.0,433.5 523.3,431.4 523.6,429.4 524.0,427.3 524.3,425.3 524.7,423.2 525.0,421.2 525.4,419.1 525.7,417.1 526.0,415.0 526.4,413.0 526.8,410.9 527.1,408.9 527.5,406.8 527.8,404.8 528.2,402.8 528.5,400.7 528.9,398.7 529.3,396.6 529.6,394.6 530.0,392.5 530.4,390.5 530.8,388.5 531.1,386.4 531.5,384.4 531.9,382.3 532.3,380.3 532.7,378.3 533.0,376.2 533.4,374.2 533.8,372.2 534.2,370.1 534.6,368.1 535.0,366.1 535.4,364.0 535.8,362.0 536.2,360.0 536.6,357.9 537.1,355.9 537.5,353.9 537.9,351.8 538.3,349.8 538.8,347.8 539.2,345.8 539.6,343.7 540.0,341.7 540.5,339.7 540.9,337.6 541.4,335.6 541.8,333.6 542.2,331.6 542.7,329.5 543.1,327.5 543.6,325.5 544.1,323.5 544.5,321.5 545.0,319.4 545.5,317.4 545.9,315.4 546.4,313.4 546.9,311.4 547.4,309.4 547.9,307.4 548.3,305.3 548.8,303.3 549.3,301.3 549.8,299.3 550.3,297.3 550.8,295.3 551.3,293.3 551.9,291.3 552.4,289.3 552.9,287.3 553.4,285.3 553.9,283.3 554.5,281.3 555.0,279.3 555.5,277.3 556.1,275.3 556.6,273.3 557.2,271.3 557.7,269.3 558.3,267.3 558.9,265.3 559.4,263.3 560.0,261.3 560.6,259.3 561.1,257.3 561.7,255.3 562.3,253.3 562.9,251.3 563.5,249.4 564.1,247.4 564.7,245.4 565.3,243.4 565.9,241.4 566.5,239.5 567.1,237.5 567.8,235.5 568.4,233.5 569.0,231.5 569.7,229.6 570.3,227.6 570.9,225.6 571.6,223.7 572.3,221.7 572.9,219.7 573.6,217.8 574.2,215.8 574.9,213.8 575.6,211.8 576.3,209.9 577.0,207.9 577.7,206.0 578.4,204.0 579.1,202.1 579.8,200.1 580.5,198.1 581.2,196.2 581.9,194.2 582.7,192.3 583.4,190.3 584.1,188.4 584.9,186.4 585.6,184.5 586.4,182.5 587.1,180.6 587.9,178.7 588.7,176.7 589.4,174.8 590.2,172.8 591.0,170.9 591.8,169.0 592.6,167.0 593.4,165.1 594.2,163.2 595.0,161.2 595.8,159.3 596.7,157.4 597.5,155.5 598.4,153.6 599.2,151.7 600.1,149.8 601.0,147.9 601.9,146.1 602.9,144.2 603.8,142.4 604.8,140.6 605.8,138.8 606.8,137.0 607.8,135.2 608.9,133.5 609.9,131.8 611.0,130.1 612.2,128.4 613.3,126.7 614.5,125.1 615.7,123.5 617.0,121.9 618.3,120.3 619.6,118.8 620.9,117.3 622.3,115.9 623.8,114.4 625.2,113.0 626.7,111.7 628.2,110.4 629.8,109.1 631.5,107.8 633.1,106.6 634.8,105.4 636.5,104.3 638.3,103.2 640.1,102.1 641.9,101.0 643.8,100.0 645.6,99.1 647.5,98.1 649.4,97.2 651.4,96.4 653.3,95.5 655.3,94.7 657.2,94.0 659.2,93.2 661.2,92.5 663.2,91.9 665.3,91.2 667.3,90.6 669.3,90.0 671.4,89.5 673.4,89.0 675.4,88.5 677.5,88.0 679.5,87.5 681.6,87.1 683.7,86.7 685.7,86.3 687.8,86.0 689.9,85.6 691.9,85.3 694.0,85.0 696.1,84.7 698.2,84.5 700.2,84.2 702.3,84.0 704.4,83.8 706.5,83.6 708.5,83.4 710.6,83.2 712.6,83.0 714.7,82.8 716.8,82.7 718.8,82.5 720.9,82.4 722.9,82.2 725.0,82.1 727.0,82.0 729.1,81.9 731.1,81.8 733.2,81.7 735.2,81.6 737.3,81.5 739.3,81.4 741.4,81.3 743.4,81.2 745.5,81.2 747.5,81.1 749.6,81.0 751.6,81.0 753.7,80.9 755.8,80.8 757.8,80.8 759.9,80.7 762.0,80.7 764.0,80.6 766.1,80.5 768.2,80.5 770.3,80.4 772.4,80.3 774.5,80.3 776.6,80.2 783.3,80.2 783.3,86.9 781.2,87.0 779.1,87.0 777.0,87.1 774.9,87.2 772.8,87.2 770.7,87.3 768.7,87.3 766.6,87.4 764.5,87.5 762.5,87.5 760.4,87.6 758.3,87.7 756.3,87.7 754.2,87.8 752.2,87.9 750.1,87.9 748.1,88.0 746.0,88.1 744.0,88.2 741.9,88.3 739.9,88.4 737.8,88.5 735.8,88.6 733.7,88.7 731.7,88.8 729.6,88.9 727.6,89.1 725.5,89.2 723.5,89.4 721.4,89.5 719.4,89.7 717.3,89.9 715.2,90.0 713.2,90.2 711.1,90.5 709.0,90.7 707.0,90.9 704.9,91.2 702.8,91.4 700.7,91.7 698.6,92.0 696.6,92.3 694.5,92.7 692.4,93.0 690.4,93.4 688.3,93.8 686.2,94.2 684.2,94.7 682.1,95.1 680.1,95.6 678.1,96.2 676.0,96.7 674.0,97.3 672.0,97.9 669.9,98.5 667.9,99.2 665.9,99.9 663.9,100.7 662.0,101.4 660.0,102.2 658.1,103.1 656.1,103.9 654.2,104.8 652.3,105.8 650.5,106.7 648.6,107.7 646.8,108.8 645.0,109.8 643.2,111.0 641.5,112.1 639.8,113.3 638.2,114.5 636.5,115.8 635.0,117.0 633.4,118.4 631.9,119.7 630.5,121.1 629.0,122.6 627.6,124.0 626.3,125.5 625.0,127.0 623.7,128.6 622.4,130.2 621.2,131.8 620.0,133.4 618.9,135.1 617.7,136.8 616.6,138.5 615.6,140.2 614.5,141.9 613.5,143.7 612.5,145.5 611.5,147.3 610.5,149.1 609.6,150.9 608.6,152.8 607.7,154.6 606.8,156.5 605.9,158.4 605.1,160.3 604.2,162.2 603.4,164.1 602.5,166.0 601.7,167.9 600.9,169.9 600.1,171.8 599.3,173.7 598.5,175.7 597.7,177.6 596.9,179.5 596.1,181.5 595.4,183.4 594.6,185.4 593.8,187.3 593.1,189.2 592.3,191.2 591.6,193.1 590.8,195.1 590.1,197.0 589.4,199.0 588.6,200.9 587.9,202.9 587.2,204.8 586.5,206.8 585.8,208.8 585.1,210.7 584.4,212.7 583.7,214.6 583.0,216.6 582.3,218.5 581.6,220.5 581.0,222.5 580.3,224.4 579.6,226.4 579.0,228.4 578.3,230.3 577.6,232.3 577.0,234.3 576.4,236.3 575.7,238.2 575.1,240.2 574.5,242.2 573.8,244.2 573.2,246.2 572.6,248.1 572.0,250.1 571.4,252.1 570.8,254.1 570.2,256.1 569.6,258.1 569.0,260.0 568.4,262.0 567.8,264.0 567.3,266.0 566.7,268.0 566.1,270.0 565.6,272.0 565.0,274.0 564.4,276.0 563.9,278.0 563.3,280.0 562.8,282.0 562.2,284.0 561.7,286.0 561.2,288.0 560.6,290.0 560.1,292.0 559.6,294.0 559.1,296.0 558.6,298.0 558.0,300.0 557.5,302.0 557.0,304.0 556.5,306.0 556.0,308.0 555.5,310.0 555.0,312.1 554.6,314.1 554.1,316.1 553.6,318.1 553.1,320.1 552.6,322.1 552.2,324.1 551.7,326.2 551.2,328.2 550.8,330.2 550.3,332.2 549.8,334.2 549.4,336.2 548.9,338.3 548.5,340.3 548.1,342.3 547.6,344.4 547.2,346.4 546.7,348.4 546.3,350.4 545.9,352.5 545.5,354.5 545.0,356.5 544.6,358.5 544.2,360.6 543.8,362.6 543.4,364.6 542.9,366.7 542.5,368.7 542.1,370.7 541.7,372.8 541.3,374.8 540.9,376.8 540.5,378.9 540.1,380.9 539.8,382.9 539.4,385.0 539.0,387.0 538.6,389.1 538.2,391.1 537.8,393.1 537.5,395.2 537.1,397.2 536.7,399.2 536.3,401.3 536.0,403.3 535.6,405.4 535.2,407.4 534.9,409.5 534.5,411.5 534.2,413.6 533.8,415.6 533.5,417.6 533.1,419.7 532.7,421.7 532.4,423.8 532.1,425.8 531.7,427.9 531.4,429.9 531.0,432.0 530.7,434.0 530.3,436.1 530.0,438.1 529.7,440.2 529.3,442.2 529.0,444.3 528.7,446.3 528.3,448.4 528.0,450.4 527.7,452.5 527.4,454.5 527.0,456.6 526.7,458.6 526.4,460.7 526.1,462.7 525.8,464.8 525.4,466.8 525.1,468.9 524.8,470.9 524.5,473.0 524.2,475.1 523.9,477.1 523.6,479.2 523.2,481.2 522.9,483.3 522.6,485.3 522.3,487.4 522.0,489.4 521.7,491.5 521.4,493.5 521.1,495.6 520.8,497.7 520.5,499.7 520.2,501.8 519.9,503.8 519.6,505.9 519.3,507.9 519.0,510.0 518.7,512.0 518.4,514.1 518.1,516.2 517.8,518.2 517.5,520.3 517.2,522.3 516.9,524.4 516.6,526.4 516.3,528.5 516.0,530.6 515.7,532.6 515.5,534.7 515.2,536.7 514.9,538.8 514.6,540.8 514.3,542.9 514.0,545.0 513.7,547.0 513.4,549.1 513.1,551.1 512.8,553.2 512.5,555.2 512.2,557.3 512.0,559.4 511.7,561.4 511.4,563.5 511.1,565.5 510.8,567.6 510.5,569.6 510.2,571.7 509.9,573.8 509.6,575.8 509.4,577.9 509.1,579.9 508.8,582.0 508.5,584.0 508.2,586.1 507.9,588.1 507.6,590.2 507.4,592.2 507.1,594.3 506.8,596.4 506.5,598.4 506.2,600.5 505.9,602.5 505.7,604.6 505.4,606.6 505.1,608.7 504.8,610.8 504.5,612.8 504.2,614.9 504.0,616.9 503.7,619.0 503.4,621.1 503.1,623.1 502.8,625.2 502.6,627.2 502.3,629.3 502.0,631.3 501.7,633.4 501.4,635.4 501.2,637.5 500.9,639.6 500.6,641.6 500.3,643.7 500.0,645.7 499.8,647.8 499.5,649.8 499.2,651.9 498.9,654.0 498.7,656.0 498.4,658.1 498.1,660.1 497.8,662.2 497.5,664.2 497.3,666.3 497.0,668.4 496.7,670.4 496.4,672.5 496.2,674.5 495.9,676.6 495.6,678.6 495.3,680.7 495.1,682.8 494.8,684.8 494.5,686.9 494.2,688.9 494.0,691.0 493.7,693.0 493.4,695.1 493.2,697.1 492.9,699.2 492.6,701.3 492.3,703.3 492.1,705.4 491.8,707.4 491.5,709.5 491.2,711.5 491.0,713.6 490.7,715.6 490.4,717.7 490.2,719.8 489.9,721.8 489.6,723.9 489.4,725.9 489.1,728.0 488.8,730.1 488.6,732.1 488.3,734.2 488.0,736.2 487.7,738.3 487.5,740.3 487.2,742.4 486.9,744.5 486.7,746.5 486.4,748.6 486.1,750.6 485.9,752.7 485.6,754.7 485.3,756.8 485.1,758.9 484.8,760.9 484.5,763.0 484.3,765.0 484.0,767.1 483.7,769.1 483.5,771.2 483.2,773.2 482.9,775.3 482.7,777.4 482.4,779.4 482.1,781.5 481.9,783.5 481.6,785.6 481.3,787.6 481.1,789.7 480.8,791.8 480.6,793.8 480.3,795.9 480.0,797.9 479.8,800.0 479.5,802.1 479.2,804.1 479.0,806.2 478.7,808.2 478.4,810.3 478.2,812.3 477.9,814.4 477.7,816.5 477.4,818.5 477.1,820.6 476.9,822.6 476.6,824.7 476.3,826.7 476.1,828.8 475.8,830.9 475.6,832.9 475.3,835.0 475.0,837.0 474.8,839.1 474.5,841.1 474.2,843.2 474.0,845.2 473.7,847.3 473.5,849.4 473.2,851.4 472.9,853.5 472.7,855.5 472.4,857.6 472.2,859.7 471.9,861.7 471.6,863.8 471.4,865.8 471.1,867.9 470.9,869.9 470.6,872.0 470.3,874.1 470.1,876.1 469.8,878.2 469.6,880.2 469.3,882.3 469.0,884.4 468.8,886.4 468.5,888.5 468.2,890.5 468.0,892.6 467.7,894.6 467.5,896.7 467.2,898.8 467.0,900.8 466.7,902.9 466.4,904.9 466.2,907.0 465.9,909.0 465.7,911.1 465.4,913.2 465.1,915.2 464.9,917.3 464.6,919.3 464.4,921.4 464.1,923.5 463.9,925.5 463.6,927.6 463.3,929.6 463.1,931.7 462.8,933.7 462.6,935.8 462.3,937.9 462.0,939.9 461.8,942.0 461.5,944.0 461.3,946.1 461.0,948.1 460.8,950.2 460.5,952.3 460.2,954.3 460.0,956.4 459.7,958.4 459.5,960.5 459.2,962.6 458.9,964.6 458.7,966.7 458.4,968.7 458.2,970.8 457.9,972.9 457.7,974.9 457.4,977.0 457.1,979.0 456.9,981.1 456.6,983.1 456.4,985.2 456.1,987.3 455.9,989.3 455.6,991.4 455.3,993.4 455.1,995.5 454.8,997.6 454.6,999.6 454.3,1001.7 454.0,1003.7 453.8,1005.8 453.5,1007.9 453.3,1009.9 453.0,1012.0 452.8,1014.0 452.5,1016.1 452.2,1018.1 452.0,1020.2 451.7,1022.3 451.5,1024.3 451.2,1026.4 450.9,1028.4 450.7,1030.5 450.4,1032.6 450.2,1034.6 449.9,1036.7 449.6,1038.7 449.4,1040.8 449.1,1042.9 448.9,1044.9 448.6,1047.0 448.3,1049.0 448.1,1051.1 447.8,1053.1 447.6,1055.2 447.3,1057.3 447.0,1059.3 446.8,1061.4 446.5,1063.4 446.2,1065.5 446.0,1067.6 445.7,1069.6 445.5,1071.7 445.2,1073.8 444.9,1075.8 444.7,1077.9 444.4,1079.9 444.1,1082.0 443.9,1084.0 443.6,1086.1 443.3,1088.2 443.1,1090.2 442.8,1092.3 442.5,1094.3 442.3,1096.4 442.0,1098.4 441.7,1100.5 441.5,1102.6 441.2,1104.6 440.9,1106.7 440.7,1108.8 440.4,1110.8 440.1,1112.9 439.9,1114.9 439.6,1117.0 439.3,1119.0 439.1,1121.1 438.8,1123.2 438.5,1125.2 438.2,1127.3 438.0,1129.3 437.7,1131.4 437.4,1133.4 437.1,1135.5 436.9,1137.6 436.6,1139.6 436.3,1141.7 436.0,1143.7 435.8,1145.8 435.5,1147.9 435.2,1149.9 434.9,1152.0 434.7,1154.0 434.4,1156.1 434.1,1158.1 433.8,1160.2 433.5,1162.3 433.3,1164.3 433.0,1166.4 432.7,1168.4 432.4,1170.5 432.1,1172.5 431.9,1174.6 431.6,1176.7 431.3,1178.7 431.0,1180.8 430.7,1182.8 430.4,1184.9 430.2,1186.9 429.9,1189.0 429.6,1191.1 429.3,1193.1 429.0,1195.2 428.7,1197.2 428.4,1199.3 428.1,1201.3 427.9,1203.4 427.6,1205.5 427.3,1207.5 427.0,1209.6 426.7,1211.6 426.4,1213.7 426.1,1215.8 425.8,1217.8 425.5,1219.9 425.2,1221.9 424.9,1224.0 424.6,1226.0 424.3,1228.1 424.0,1230.1 423.7,1232.2 423.4,1234.2 423.0,1236.3 422.7,1238.3 422.4,1240.4 422.1,1242.4 421.7,1244.5 421.4,1246.5 421.1,1248.6 420.7,1250.6 420.4,1252.7 420.1,1254.7 419.7,1256.8 419.4,1258.8 419.0,1260.9 418.6,1262.9 418.3,1265.0 417.9,1267.0 417.5,1269.0 417.2,1271.1 416.8,1273.1 416.4,1275.1 416.0,1277.2 415.6,1279.2 415.2,1281.2 414.8,1283.3 414.4,1285.3 413.9,1287.3 413.5,1289.4 413.1,1291.4 412.6,1293.4 412.2,1295.4 411.7,1297.5 411.3,1299.5 410.8,1301.5 410.4,1303.5 409.9,1305.5 409.4,1307.6 408.9,1309.6 408.4,1311.6 407.9,1313.6 407.4,1315.6 406.8,1317.6 406.3,1319.6 405.8,1321.6 405.2,1323.6 404.7,1325.6 404.1,1327.6 403.5,1329.6 403.0,1331.6 402.4,1333.6 401.8,1335.6 401.2,1337.6 400.5,1339.6 399.9,1341.5 399.2,1343.5 398.6,1345.5 397.9,1347.4 397.2,1349.4 396.4,1351.3 395.7,1353.2 394.9,1355.1 394.0,1357.0 393.2,1358.9 392.3,1360.7 391.4,1362.5 390.4,1364.3 389.4,1366.1 388.3,1367.9 387.2,1369.6 386.1,1371.3 384.9,1373.0 383.6,1374.7 382.3,1376.3 381.0,1377.9" fill="#ff0000"/>
<polygon points="373.8,1380.4 373.8,1373.4 375.6,1372.2 377.4,1371.0 379.1,1369.7 380.8,1368.4 382.4,1367.0 383.9,1365.6 385.4,1364.1 386.9,1362.6 388.3,1361.1 389.6,1359.5 390.9,1357.8 392.2,1356.2 393.4,1354.4 394.6,1352.7 395.7,1350.9 396.8,1349.1 397.8,1347.3 398.9,1345.4 399.8,1343.6 400.8,1341.7 401.7,1339.8 402.6,1337.8 403.5,1335.9 404.4,1333.9 405.2,1331.9 406.0,1330.0 406.8,1328.0 407.6,1326.0 408.4,1324.0 409.2,1322.0 409.9,1320.0 410.6,1318.0 411.4,1316.0 412.1,1314.0 412.8,1312.0 413.4,1310.0 414.1,1308.0 414.8,1305.9 415.4,1303.9 416.0,1301.9 416.6,1299.8 417.2,1297.8 417.8,1295.8 418.4,1293.7 419.0,1291.7 419.6,1289.7 420.1,1287.6 420.7,1285.5 421.2,1283.5 421.7,1281.4 422.2,1279.4 422.7,1277.3 423.2,1275.3 423.7,1273.2 424.2,1271.1 424.7,1269.1 425.1,1267.0 425.6,1264.9 426.0,1262.9 426.5,1260.8 426.9,1258.7 427.4,1256.6 427.8,1254.5 428.2,1252.5 428.6,1250.4 429.0,1248.3 429.4,1246.2 429.8,1244.1 430.2,1242.0 430.6,1240.0 430.9,1237.9 431.3,1235.8 431.7,1233.7 432.1,1231.6 432.4,1229.5 432.8,1227.4 433.1,1225.3 433.5,1223.2 433.8,1221.1 434.2,1219.0 434.5,1216.9 434.9,1214.8 435.2,1212.7 435.6,1210.6 435.9,1208.5 436.2,1206.4 436.6,1204.3 436.9,1202.2 437.3,1200.1 437.6,1198.0 437.9,1195.9 438.3,1193.8 438.6,1191.7 439.0,1189.6 439.3,1187.5 439.6,1185.4 440.0,1183.3 440.3,1181.2 440.7,1179.1 441.0,1177.0 441.4,1174.9 441.7,1172.8 442.0,1170.7 442.4,1168.6 442.7,1166.5 443.1,1164.5 443.4,1162.3 443.8,1160.2 444.1,1158.2 444.4,1156.1 444.8,1154.0 445.1,1151.9 445.5,1149.8 445.8,1147.7 446.2,1145.6 446.5,1143.5 446.9,1141.4 447.2,1139.3 447.6,1137.2 447.9,1135.1 448.2,1133.0 448.6,1130.9 448.9,1128.8 449.3,1126.7 449.6,1124.6 450.0,1122.5 450.3,1120.4 450.7,1118.3 451.0,1116.2 451.4,1114.2 451.7,1112.0 452.1,1110.0 452.4,1107.9 452.8,1105.8 453.1,1103.7 453.5,1101.6 453.8,1099.5 454.2,1097.4 454.5,1095.3 454.9,1093.2 455.2,1091.1 455.6,1089.0 455.9,1086.9 456.2,1084.8 456.6,1082.7 456.9,1080.6 457.3,1078.5 457.6,1076.5 458.0,1074.3 458.3,1072.3 458.7,1070.2 459.0,1068.1 459.4,1066.0 459.7,1063.9 460.1,1061.8 460.4,1059.7 460.8,1057.6 461.1,1055.5 461.4,1053.4 461.8,1051.3 462.1,1049.2 462.5,1047.1 462.8,1045.0 463.2,1042.9 463.5,1040.8 463.9,1038.8 464.2,1036.7 464.6,1034.6 464.9,1032.5 465.2,1030.4 465.6,1028.3 465.9,1026.2 466.3,1024.1 466.6,1022.0 466.9,1019.9 467.3,1017.8 467.6,1015.7 468.0,1013.6 468.3,1011.5 468.7,1009.4 469.0,1007.3 469.3,1005.2 469.7,1003.1 470.0,1001.0 470.4,999.0 470.7,996.9 471.0,994.8 471.4,992.7 471.7,990.6 472.0,988.5 472.4,986.4 472.7,984.3 473.0,982.2 473.4,980.1 473.7,978.0 474.0,975.9 474.4,973.8 474.7,971.7 475.0,969.6 475.4,967.5 475.7,965.4 476.0,963.3 476.4,961.2 476.7,959.1 477.0,957.0 477.3,954.9 477.7,952.8 478.0,950.8 478.3,948.6 478.6,946.5 479.0,944.5 479.3,942.4 479.6,940.3 479.9,938.2 480.3,936.1 480.6,934.0 480.9,931.9 481.2,929.8 481.6,927.7 481.9,925.6 482.2,923.5 482.5,921.4 482.8,919.3 483.2,917.2 483.5,915.1 483.8,913.0 484.1,910.9 484.4,908.8 484.8,906.7 485.1,904.6 485.4,902.5 485.7,900.4 486.0,898.3 486.3,896.2 486.6,894.1 487.0,892.0 487.3,889.9 487.6,887.8 487.9,885.7 488.2,883.6 488.5,881.5 488.9,879.4 489.2,877.3 489.5,875.2 489.8,873.1 490.1,871.0 490.4,868.9 490.7,866.8 491.0,864.7 491.3,862.6 491.6,860.5 492.0,858.4 492.3,856.3 492.6,854.2 492.9,852.1 493.2,850.0 493.5,847.9 493.8,845.8 494.1,843.7 494.4,841.6 494.8,839.5 495.1,837.4 495.4,835.3 495.7,833.2 496.0,831.0 496.3,829.0 496.6,826.9 496.9,824.8 497.2,822.6 497.5,820.5 497.8,818.4 498.1,816.3 498.5,814.2 498.8,812.1 499.1,810.0 499.4,807.9 499.7,805.8 500.0,803.7 500.3,801.6 500.6,799.5 500.9,797.4 501.2,795.3 501.5,793.2 501.8,791.1 502.1,789.0 502.4,786.9 502.8,784.8 503.1,782.7 503.4,780.6 503.7,778.5 504.0,776.4 504.3,774.3 504.6,772.2 504.9,770.1 505.2,768.0 505.5,765.9 505.8,763.8 506.1,761.7 506.4,759.6 506.8,757.5 507.1,755.4 507.4,753.3 507.7,751.2 508.0,749.1 508.3,747.0 508.6,744.9 508.9,742.8 509.2,740.7 509.5,738.6 509.9,736.5 510.2,734.4 510.5,732.3 510.8,730.2 511.1,728.1 511.4,726.0 511.7,723.9 512.0,721.8 512.3,719.7 512.6,717.6 513.0,715.5 513.3,713.4 513.6,711.3 513.9,709.2 514.2,707.1 514.5,705.0 514.8,702.9 515.1,700.8 515.5,698.7 515.8,696.6 516.1,694.5 516.4,692.4 516.7,690.2 517.0,688.1 517.4,686.0 517.7,684.0 518.0,681.9 518.3,679.8 518.6,677.6 518.9,675.5 519.2,673.5 519.6,671.4 519.9,669.2 520.2,667.1 520.5,665.0 520.8,663.0 521.2,660.9 521.5,658.8 521.8,656.6 522.1,654.5 522.4,652.5 522.8,650.4 523.1,648.3 523.4,646.2 523.7,644.1 524.1,642.0 524.4,639.9 524.7,637.8 525.0,635.7 525.4,633.6 525.7,631.5 526.0,629.4 526.3,627.3 526.7,625.2 527.0,623.1 527.3,621.0 527.6,618.9 528.0,616.8 528.3,614.7 528.6,612.6 529.0,610.5 529.3,608.4 529.6,606.3 530.0,604.2 530.3,602.1 530.6,600.0 531.0,597.9 531.3,595.8 531.6,593.7 532.0,591.6 532.3,589.5 532.7,587.4 533.0,585.3 533.3,583.2 533.7,581.1 534.0,579.0 534.4,577.0 534.7,574.9 535.0,572.8 535.4,570.7 535.7,568.6 536.1,566.5 536.4,564.4 536.8,562.3 537.1,560.2 537.5,558.1 537.8,556.0 538.2,553.9 538.5,551.8 538.9,549.7 539.2,547.6 539.6,545.5 539.9,543.4 540.3,541.3 540.6,539.2 541.0,537.2 541.3,535.1 541.7,533.0 542.0,530.9 542.4,528.8 542.8,526.7 543.1,524.6 543.5,522.5 543.9,520.4 544.2,518.3 544.6,516.2 544.9,514.1 545.3,512.1 545.7,510.0 546.0,507.9 546.4,505.8 546.8,503.7 547.1,501.6 547.5,499.5 547.9,497.4 548.3,495.3 548.6,493.2 549.0,491.2 549.4,489.1 549.8,487.0 550.1,484.9 550.5,482.8 550.9,480.7 551.3,478.6 551.7,476.6 552.0,474.5 552.4,472.4 552.8,470.3 553.2,468.2 553.6,466.1 554.0,464.0 554.4,461.9 554.8,459.9 555.2,457.8 555.6,455.7 556.0,453.6 556.4,451.5 556.8,449.4 557.2,447.4 557.6,445.3 558.0,443.2 558.4,441.1 558.8,439.0 559.2,436.9 559.6,434.9 560.0,432.8 560.5,430.7 560.9,428.6 561.3,426.5 561.7,424.5 562.1,422.4 562.5,420.3 563.0,418.2 563.4,416.1 563.8,414.1 564.3,412.0 564.7,409.9 565.1,407.8 565.6,405.8 566.0,403.7 566.4,401.6 566.9,399.5 567.3,397.5 567.8,395.4 568.2,393.3 568.7,391.2 569.1,389.2 569.6,387.1 570.0,385.0 570.5,382.9 571.0,380.9 571.4,378.8 571.9,376.7 572.4,374.7 572.8,372.6 573.3,370.5 573.8,368.5 574.2,366.4 574.7,364.3 575.2,362.3 575.7,360.2 576.2,358.1 576.6,356.1 577.1,354.0 577.6,351.9 578.1,349.9 578.6,347.8 579.1,345.7 579.6,343.7 580.1,341.6 580.6,339.6 581.1,337.5 581.7,335.4 582.2,333.4 582.7,331.3 583.2,329.2 583.7,327.2 584.2,325.1 584.8,323.1 585.3,321.0 585.8,319.0 586.4,316.9 586.9,314.9 587.5,312.8 588.0,310.7 588.5,308.7 589.1,306.6 589.7,304.6 590.2,302.5 590.8,300.5 591.4,298.4 591.9,296.4 592.5,294.4 593.1,292.3 593.6,290.3 594.2,288.2 594.8,286.2 595.4,284.1 596.0,282.1 596.6,280.1 597.2,278.0 597.8,276.0 598.5,274.0 599.1,271.9 599.7,269.9 600.3,267.9 601.0,265.9 601.6,263.8 602.2,261.8 602.9,259.8 603.5,257.8 604.2,255.8 604.9,253.7 605.5,251.7 606.2,249.7 606.9,247.7 607.6,245.7 608.3,243.7 609.0,241.7 609.7,239.7 610.4,237.7 611.1,235.7 611.9,233.7 612.6,231.7 613.3,229.7 614.1,227.7 614.8,225.8 615.6,223.8 616.4,221.8 617.1,219.8 617.9,217.8 618.7,215.9 619.5,213.9 620.3,211.9 621.1,210.0 621.9,208.0 622.7,206.1 623.6,204.1 624.4,202.2 625.2,200.2 626.1,198.3 627.0,196.3 627.8,194.4 628.7,192.5 629.6,190.5 630.5,188.6 631.4,186.7 632.3,184.8 633.2,182.8 634.1,180.9 635.1,179.0 636.0,177.1 637.0,175.2 637.9,173.3 638.9,171.4 639.9,169.5 640.9,167.6 641.9,165.7 642.9,163.8 643.9,162.0 644.9,160.1 646.0,158.2 647.0,156.4 648.1,154.5 649.2,152.7 650.3,150.8 651.4,149.0 652.5,147.2 653.6,145.4 654.8,143.7 656.0,141.9 657.2,140.2 658.4,138.4 659.6,136.7 660.9,135.0 662.1,133.3 663.4,131.7 664.7,130.1 666.1,128.5 667.4,126.9 668.8,125.3 670.2,123.8 671.7,122.3 673.1,120.8 674.6,119.3 676.1,117.9 677.7,116.5 679.3,115.1 680.9,113.8 682.5,112.5 684.2,111.2 685.9,110.0 687.6,108.8 689.4,107.6 691.2,106.5 693.0,105.3 694.8,104.3 696.7,103.2 698.6,102.2 700.5,101.2 702.4,100.3 704.3,99.4 706.3,98.5 708.2,97.7 710.2,96.8 712.2,96.0 714.1,95.3 716.1,94.5 718.1,93.8 720.1,93.1 722.2,92.5 724.2,91.8 726.2,91.2 728.3,90.6 730.3,90.1 732.4,89.5 734.4,89.0 736.5,88.5 738.5,88.0 740.6,87.6 742.7,87.2 744.8,86.8 746.9,86.4 749.0,86.0 751.1,85.6 753.2,85.3 755.3,85.0 757.4,84.7 759.5,84.4 761.6,84.1 763.8,83.9 765.9,83.6 768.0,83.4 770.2,83.2 772.3,83.0 774.4,82.8 776.6,82.6 778.7,82.5 780.8,82.3 783.0,82.2 785.1,82.0 787.2,81.9 789.4,81.8 791.5,81.7 793.7,81.6 795.8,81.5 798.0,81.4 800.1,81.3 802.2,81.3 804.4,81.2 806.5,81.1 808.6,81.1 810.8,81.0 812.9,81.0 815.0,80.9 817.1,80.9 819.2,80.8 821.4,80.8 823.5,80.7 825.6,80.7 827.7,80.6 829.8,80.6 831.9,80.5 834.0,80.5 836.0,80.4 838.1,80.3 840.2,80.3 842.2,80.2 844.3,80.1 846.4,80.0 853.4,80.0 853.4,87.0 851.3,87.1 849.2,87.2 847.2,87.3 845.1,87.3 843.0,87.4 841.0,87.5 838.9,87.5 836.8,87.6 834.7,87.6 832.6,87.7 830.5,87.7 828.4,87.8 826.2,87.8 824.1,87.9 822.0,87.9 819.9,88.0 817.8,88.0 815.6,88.1 813.5,88.1 811.4,88.2 809.2,88.3 807.1,88.3 805.0,88.4 802.8,88.5 800.7,88.6 798.5,88.7 796.4,88.8 794.2,88.9 792.1,89.0 790.0,89.2 787.8,89.3 785.7,89.5 783.6,89.6 781.4,89.8 779.3,90.0 777.2,90.2 775.0,90.4 772.9,90.6 770.8,90.9 768.6,91.1 766.5,91.4 764.4,91.7 762.3,92.0 760.2,92.3 758.1,92.6 756.0,93.0 753.9,93.4 751.8,93.8 749.7,94.2 747.6,94.6 745.5,95.0 743.5,95.5 741.4,96.0 739.4,96.5 737.3,97.1 735.3,97.6 733.2,98.2 731.2,98.8 729.2,99.5 727.1,100.1 725.1,100.8 723.1,101.5 721.1,102.3 719.2,103.0 717.2,103.8 715.2,104.7 713.3,105.5 711.3,106.4 709.4,107.3 707.5,108.2 705.6,109.2 703.7,110.2 701.8,111.3 700.0,112.3 698.2,113.5 696.4,114.6 694.6,115.8 692.9,117.0 691.2,118.2 689.5,119.5 687.9,120.8 686.3,122.1 684.7,123.5 683.1,124.9 681.6,126.3 680.1,127.8 678.7,129.3 677.2,130.8 675.8,132.3 674.4,133.9 673.1,135.5 671.7,137.1 670.4,138.7 669.1,140.3 667.9,142.0 666.6,143.7 665.4,145.4 664.2,147.2 663.0,148.9 661.8,150.7 660.6,152.4 659.5,154.2 658.4,156.0 657.3,157.8 656.2,159.7 655.1,161.5 654.0,163.4 653.0,165.2 651.9,167.1 650.9,169.0 649.9,170.8 648.9,172.7 647.9,174.6 646.9,176.5 645.9,178.4 644.9,180.3 644.0,182.2 643.0,184.1 642.1,186.0 641.1,187.9 640.2,189.8 639.3,191.8 638.4,193.7 637.5,195.6 636.6,197.5 635.7,199.5 634.8,201.4 634.0,203.3 633.1,205.3 632.2,207.2 631.4,209.2 630.6,211.1 629.7,213.1 628.9,215.0 628.1,217.0 627.3,218.9 626.5,220.9 625.7,222.9 624.9,224.8 624.1,226.8 623.4,228.8 622.6,230.8 621.8,232.8 621.1,234.7 620.3,236.7 619.6,238.7 618.9,240.7 618.1,242.7 617.4,244.7 616.7,246.7 616.0,248.7 615.3,250.7 614.6,252.7 613.9,254.7 613.2,256.7 612.5,258.7 611.9,260.7 611.2,262.8 610.5,264.8 609.9,266.8 609.2,268.8 608.6,270.8 608.0,272.9 607.3,274.9 606.7,276.9 606.1,278.9 605.5,281.0 604.8,283.0 604.2,285.0 603.6,287.1 603.0,289.1 602.4,291.1 601.8,293.2 601.2,295.2 600.6,297.3 600.1,299.3 599.5,301.4 598.9,303.4 598.4,305.4 597.8,307.5 597.2,309.5 596.7,311.6 596.1,313.6 595.5,315.7 595.0,317.7 594.5,319.8 593.9,321.9 593.4,323.9 592.8,326.0 592.3,328.0 591.8,330.1 591.2,332.1 590.7,334.2 590.2,336.2 589.7,338.3 589.2,340.4 588.7,342.4 588.1,344.5 587.6,346.6 587.1,348.6 586.6,350.7 586.1,352.7 585.6,354.8 585.1,356.9 584.6,358.9 584.1,361.0 583.6,363.1 583.2,365.1 582.7,367.2 582.2,369.3 581.7,371.3 581.2,373.4 580.8,375.5 580.3,377.5 579.8,379.6 579.4,381.7 578.9,383.7 578.4,385.8 578.0,387.9 577.5,389.9 577.0,392.0 576.6,394.1 576.1,396.2 575.7,398.2 575.2,400.3 574.8,402.4 574.3,404.5 573.9,406.5 573.4,408.6 573.0,410.7 572.6,412.8 572.1,414.8 571.7,416.9 571.3,419.0 570.8,421.1 570.4,423.1 570.0,425.2 569.5,427.3 569.1,429.4 568.7,431.5 568.3,433.5 567.9,435.6 567.5,437.7 567.0,439.8 566.6,441.9 566.2,443.9 565.8,446.0 565.4,448.1 565.0,450.2 564.6,452.3 564.2,454.4 563.8,456.4 563.4,458.5 563.0,460.6 562.6,462.7 562.2,464.8 561.8,466.9 561.4,468.9 561.0,471.0 560.6,473.1 560.2,475.2 559.8,477.3 559.4,479.4 559.0,481.5 558.7,483.6 558.3,485.6 557.9,487.7 557.5,489.8 557.1,491.9 556.8,494.0 556.4,496.1 556.0,498.2 555.6,500.2 555.3,502.3 554.9,504.4 554.5,506.5 554.1,508.6 553.8,510.7 553.4,512.8 553.0,514.9 552.7,517.0 552.3,519.1 551.9,521.1 551.6,523.2 551.2,525.3 550.9,527.4 550.5,529.5 550.1,531.6 549.8,533.7 549.4,535.8 549.0,537.9 548.7,540.0 548.3,542.1 548.0,544.2 547.6,546.2 547.3,548.3 546.9,550.4 546.6,552.5 546.2,554.6 545.9,556.7 545.5,558.8 545.2,560.9 544.8,563.0 544.5,565.1 544.1,567.2 543.8,569.3 543.4,571.4 543.1,573.5 542.7,575.6 542.4,577.7 542.0,579.8 541.7,581.9 541.4,584.0 541.0,586.0 540.7,588.1 540.3,590.2 540.0,592.3 539.7,594.4 539.3,596.5 539.0,598.6 538.6,600.7 538.3,602.8 538.0,604.9 537.6,607.0 537.3,609.1 537.0,611.2 536.6,613.3 536.3,615.4 536.0,617.5 535.6,619.6 535.3,621.7 535.0,623.8 534.6,625.9 534.3,628.0 534.0,630.1 533.7,632.2 533.3,634.3 533.0,636.4 532.7,638.5 532.4,640.6 532.0,642.7 531.7,644.8 531.4,646.9 531.1,649.0 530.7,651.1 530.4,653.2 530.1,655.3 529.8,657.4 529.4,659.5 529.1,661.5 528.8,663.6 528.5,665.8 528.2,667.9 527.8,670.0 527.5,672.0 527.2,674.1 526.9,676.2 526.6,678.4 526.2,680.5 525.9,682.5 525.6,684.6 525.3,686.8 525.0,688.9 524.7,691.0 524.4,693.0 524.0,695.1 523.7,697.2 523.4,699.4 523.1,701.5 522.8,703.6 522.5,705.7 522.1,707.8 521.8,709.9 521.5,712.0 521.2,714.1 520.9,716.2 520.6,718.3 520.3,720.4 520.0,722.5 519.6,724.6 519.3,726.7 519.0,728.8 518.7,730.9 518.4,733.0 518.1,735.1 517.8,737.2 517.5,739.3 517.2,741.4 516.9,743.5 516.5,745.6 516.2,747.7 515.9,749.8 515.6,751.9 515.3,754.0 515.0,756.1 514.7,758.2 514.4,760.3 514.1,762.4 513.8,764.5 513.5,766.6 513.1,768.7 512.8,770.8 512.5,772.9 512.2,775.0 511.9,777.1 511.6,779.2 511.3,781.3 511.0,783.4 510.7,785.5 510.4,787.6 510.1,789.7 509.8,791.8 509.4,793.9 509.1,796.0 508.8,798.1 508.5,800.2 508.2,802.3 507.9,804.4 507.6,806.5 507.3,808.6 507.0,810.7 506.7,812.8 506.4,814.9 506.1,817.0 505.8,819.1 505.5,821.2 505.1,823.3 504.8,825.4 504.5,827.5 504.2,829.6 503.9,831.8 503.6,833.9 503.3,836.0 503.0,838.0 502.7,840.2 502.4,842.3 502.1,844.4 501.8,846.5 501.4,848.6 501.1,850.7 500.8,852.8 500.5,854.9 500.2,857.0 499.9,859.1 499.6,861.2 499.3,863.3 499.0,865.4 498.6,867.5 498.3,869.6 498.0,871.7 497.7,873.8 497.4,875.9 497.1,878.0 496.8,880.1 496.5,882.2 496.2,884.3 495.9,886.4 495.5,888.5 495.2,890.6 494.9,892.7 494.6,894.8 494.3,896.9 494.0,899.0 493.6,901.1 493.3,903.2 493.0,905.3 492.7,907.4 492.4,909.5 492.1,911.6 491.8,913.7 491.4,915.8 491.1,917.9 490.8,920.0 490.5,922.1 490.2,924.2 489.8,926.3 489.5,928.4 489.2,930.5 488.9,932.6 488.6,934.7 488.2,936.8 487.9,938.9 487.6,941.0 487.3,943.1 486.9,945.2 486.6,947.3 486.3,949.4 486.0,951.5 485.6,953.5 485.3,955.6 485.0,957.8 484.7,959.8 484.3,961.9 484.0,964.0 483.7,966.1 483.4,968.2 483.0,970.3 482.7,972.4 482.4,974.5 482.0,976.6 481.7,978.7 481.4,980.8 481.0,982.9 480.7,985.0 480.4,987.1 480.0,989.2 479.7,991.3 479.4,993.4 479.0,995.5 478.7,997.6 478.4,999.7 478.0,1001.8 477.7,1003.9 477.4,1006.0 477.0,1008.0 476.7,1010.1 476.3,1012.2 476.0,1014.3 475.7,1016.4 475.3,1018.5 475.0,1020.6 474.6,1022.7 474.3,1024.8 473.9,1026.9 473.6,1029.0 473.3,1031.1 472.9,1033.2 472.6,1035.3 472.2,1037.4 471.9,1039.5 471.6,1041.6 471.2,1043.7 470.9,1045.8 470.5,1047.8 470.2,1049.9 469.8,1052.0 469.5,1054.1 469.1,1056.2 468.8,1058.3 468.4,1060.4 468.1,1062.5 467.8,1064.6 467.4,1066.7 467.1,1068.8 466.7,1070.9 466.4,1073.0 466.0,1075.1 465.7,1077.2 465.3,1079.3 465.0,1081.3 464.6,1083.5 464.3,1085.5 463.9,1087.6 463.6,1089.7 463.2,1091.8 462.9,1093.9 462.6,1096.0 462.2,1098.1 461.9,1100.2 461.5,1102.3 461.2,1104.4 460.8,1106.5 460.5,1108.6 460.1,1110.7 459.8,1112.8 459.4,1114.9 459.1,1117.0 458.7,1119.0 458.4,1121.2 458.0,1123.2 457.7,1125.3 457.3,1127.4 457.0,1129.5 456.6,1131.6 456.3,1133.7 455.9,1135.8 455.6,1137.9 455.2,1140.0 454.9,1142.1 454.6,1144.2 454.2,1146.3 453.9,1148.4 453.5,1150.5 453.2,1152.6 452.8,1154.7 452.5,1156.8 452.1,1158.9 451.8,1161.0 451.4,1163.1 451.1,1165.2 450.8,1167.2 450.4,1169.3 450.1,1171.5 449.7,1173.5 449.4,1175.6 449.0,1177.7 448.7,1179.8 448.4,1181.9 448.0,1184.0 447.7,1186.1 447.3,1188.2 447.0,1190.3 446.6,1192.4 446.3,1194.5 446.0,1196.6 445.6,1198.7 445.3,1200.8 444.9,1202.9 444.6,1205.0 444.3,1207.1 443.9,1209.2 443.6,1211.3 443.2,1213.4 442.9,1215.5 442.6,1217.6 442.2,1219.7 441.9,1221.8 441.5,1223.9 441.2,1226.0 440.8,1228.1 440.5,1230.2 440.1,1232.3 439.8,1234.4 439.4,1236.5 439.1,1238.6 438.7,1240.7 438.3,1242.8 437.9,1244.9 437.6,1247.0 437.2,1249.0 436.8,1251.1 436.4,1253.2 436.0,1255.3 435.6,1257.4 435.2,1259.5 434.8,1261.5 434.4,1263.6 433.9,1265.7 433.5,1267.8 433.0,1269.9 432.6,1271.9 432.1,1274.0 431.7,1276.1 431.2,1278.1 430.7,1280.2 430.2,1282.3 429.7,1284.3 429.2,1286.4 428.7,1288.4 428.2,1290.5 427.7,1292.5 427.1,1294.6 426.6,1296.7 426.0,1298.7 425.4,1300.7 424.8,1302.8 424.2,1304.8 423.6,1306.8 423.0,1308.9 422.4,1310.9 421.8,1312.9 421.1,1315.0 420.4,1317.0 419.8,1319.0 419.1,1321.0 418.4,1323.0 417.6,1325.0 416.9,1327.0 416.2,1329.0 415.4,1331.0 414.6,1333.0 413.8,1335.0 413.0,1337.0 412.2,1338.9 411.4,1340.9 410.5,1342.9 409.6,1344.8 408.7,1346.8 407.8,1348.7 406.8,1350.6 405.9,1352.4 404.8,1354.3 403.8,1356.1 402.7,1357.9 401.6,1359.7 400.4,1361.4 399.2,1363.2 397.9,1364.8 396.6,1366.5 395.3,1368.1 393.9,1369.6 392.4,1371.1 390.9,1372.6 389.4,1374.0 387.8,1375.4 386.1,1376.7 384.4,1378.0 382.6,1379.2 380.8,1380.4" fill="#008000"/>
<polygon points="386.6,1381.9 386.6,1374.4 388.6,1373.2 390.6,1371.9 392.5,1370.6 394.3,1369.2 396.1,1367.8 397.9,1366.4 399.6,1364.9 401.3,1363.4 403.0,1361.9 404.6,1360.3 406.2,1358.7 407.8,1357.1 409.3,1355.4 410.7,1353.7 412.2,1352.0 413.6,1350.2 415.0,1348.5 416.4,1346.7 417.7,1344.9 419.0,1343.0 420.3,1341.2 421.6,1339.3 422.8,1337.4 424.0,1335.5 425.2,1333.6 426.4,1331.7 427.6,1329.7 428.7,1327.8 429.8,1325.8 430.9,1323.8 432.0,1321.9 433.1,1319.9 434.2,1317.9 435.3,1315.9 436.3,1313.9 437.3,1311.9 438.4,1309.9 439.4,1307.9 440.3,1305.8 441.3,1303.8 442.3,1301.8 443.2,1299.7 444.2,1297.7 445.1,1295.6 446.0,1293.5 446.9,1291.5 447.8,1289.4 448.7,1287.3 449.6,1285.2 450.4,1283.1 451.3,1281.0 452.1,1278.9 453.0,1276.8 453.8,1274.7 454.6,1272.6 455.4,1270.5 456.2,1268.3 457.0,1266.2 457.8,1264.1 458.5,1261.9 459.3,1259.8 460.1,1257.7 460.8,1255.5 461.5,1253.4 462.3,1251.2 463.0,1249.0 463.7,1246.9 464.4,1244.7 465.1,1242.5 465.8,1240.4 466.5,1238.2 467.2,1236.0 467.9,1233.9 468.6,1231.7 469.2,1229.5 469.9,1227.3 470.6,1225.1 471.2,1223.0 471.9,1220.8 472.6,1218.6 473.2,1216.4 473.8,1214.2 474.5,1212.0 475.1,1209.8 475.8,1207.6 476.4,1205.4 477.0,1203.2 477.6,1201.0 478.3,1198.8 478.9,1196.6 479.5,1194.5 480.1,1192.2 480.8,1190.1 481.4,1187.9 482.0,1185.7 482.6,1183.5 483.2,1181.3 483.9,1179.1 484.5,1176.9 485.1,1174.7 485.7,1172.5 486.3,1170.3 486.9,1168.1 487.5,1165.9 488.1,1163.7 488.7,1161.5 489.4,1159.3 489.9,1157.1 490.6,1154.9 491.1,1152.8 491.8,1150.5 492.4,1148.4 492.9,1146.2 493.5,1144.0 494.1,1141.8 494.7,1139.6 495.3,1137.4 495.9,1135.2 496.5,1133.0 497.1,1130.8 497.7,1128.6 498.3,1126.4 498.8,1124.2 499.4,1122.0 500.0,1119.8 500.6,1117.6 501.2,1115.4 501.8,1113.2 502.3,1111.0 502.9,1108.8 503.5,1106.6 504.1,1104.4 504.6,1102.2 505.2,1100.0 505.8,1097.9 506.3,1095.7 506.9,1093.5 507.5,1091.3 508.0,1089.1 508.6,1086.9 509.2,1084.7 509.7,1082.5 510.3,1080.3 510.8,1078.1 511.4,1075.9 512.0,1073.7 512.5,1071.5 513.1,1069.3 513.6,1067.1 514.2,1064.9 514.7,1062.7 515.3,1060.5 515.8,1058.3 516.4,1056.1 516.9,1053.9 517.5,1051.7 518.0,1049.5 518.6,1047.3 519.1,1045.1 519.6,1042.9 520.2,1040.7 520.7,1038.5 521.3,1036.3 521.8,1034.1 522.4,1031.9 522.9,1029.7 523.4,1027.5 524.0,1025.3 524.5,1023.1 525.0,1020.9 525.5,1018.7 526.1,1016.5 526.6,1014.3 527.1,1012.1 527.7,1009.9 528.2,1007.7 528.7,1005.5 529.2,1003.2 529.8,1001.0 530.3,998.8 530.8,996.6 531.3,994.4 531.8,992.2 532.4,990.0 532.9,987.8 533.4,985.6 533.9,983.4 534.4,981.2 534.9,979.0 535.4,976.8 536.0,974.6 536.5,972.4 537.0,970.1 537.5,967.9 538.0,965.7 538.5,963.5 539.0,961.3 539.5,959.1 540.0,956.9 540.5,954.7 541.0,952.5 541.5,950.2 542.0,948.0 542.5,945.8 543.0,943.6 543.5,941.4 544.0,939.2 544.5,937.0 545.0,934.8 545.5,932.5 546.0,930.3 546.5,928.1 547.0,925.9 547.5,923.7 548.0,921.5 548.4,919.3 548.9,917.0 549.4,914.8 549.9,912.6 550.4,910.4 550.9,908.2 551.4,906.0 551.9,903.7 552.3,901.5 552.8,899.3 553.3,897.1 553.8,894.9 554.3,892.6 554.8,890.4 555.2,888.2 555.7,886.0 556.2,883.8 556.7,881.6 557.2,879.3 557.6,877.1 558.1,874.9 558.6,872.7 559.1,870.5 559.5,868.2 560.0,866.0 560.5,863.8 561.0,861.6 561.5,859.4 561.9,857.1 562.4,854.9 562.9,852.7 563.4,850.5 563.8,848.3 564.3,846.0 564.8,843.8 565.3,841.6 565.7,839.4 566.2,837.1 566.7,834.9 567.2,832.7 567.6,830.5 568.1,828.3 568.6,826.0 569.0,823.8 569.5,821.6 570.0,819.4 570.5,817.1 570.9,814.9 571.4,812.7 571.9,810.5 572.4,808.3 572.8,806.0 573.3,803.8 573.8,801.6 574.2,799.4 574.7,797.1 575.2,794.9 575.7,792.7 576.1,790.5 576.6,788.3 577.1,786.0 577.5,783.8 578.0,781.6 578.5,779.4 579.0,777.1 579.4,774.9 579.9,772.7 580.4,770.5 580.9,768.2 581.3,766.0 581.8,763.8 582.3,761.6 582.8,759.4 583.2,757.1 583.7,754.9 584.2,752.7 584.7,750.5 585.1,748.2 585.6,746.0 586.1,743.8 586.6,741.6 587.0,739.4 587.5,737.1 588.0,734.9 588.5,732.7 589.0,730.5 589.4,728.3 589.9,726.0 590.4,723.8 590.9,721.6 591.4,719.4 591.8,717.1 592.3,714.9 592.8,712.7 593.3,710.5 593.8,708.3 594.2,706.0 594.7,703.8 595.2,701.6 595.7,699.4 596.2,697.2 596.7,695.0 597.2,692.7 597.7,690.5 598.1,688.3 598.6,686.1 599.1,683.9 599.6,681.6 600.1,679.4 600.6,677.2 601.1,675.0 601.6,672.8 602.1,670.5 602.6,668.3 603.1,666.1 603.6,663.9 604.1,661.7 604.6,659.5 605.1,657.2 605.6,655.0 606.1,652.8 606.6,650.6 607.1,648.4 607.6,646.2 608.1,644.0 608.6,641.7 609.1,639.5 609.6,637.3 610.1,635.1 610.6,632.9 611.1,630.7 611.6,628.5 612.1,626.2 612.6,624.0 613.2,621.8 613.7,619.6 614.2,617.4 614.7,615.2 615.2,613.0 615.8,610.8 616.3,608.6 616.8,606.4 617.3,604.1 617.8,601.9 618.4,599.7 618.9,597.5 619.4,595.3 620.0,593.1 620.5,590.9 621.0,588.7 621.5,586.5 622.1,584.3 622.6,582.1 623.1,579.9 623.7,577.6 624.2,575.5 624.8,573.2 625.3,571.0 625.8,568.8 626.4,566.6 626.9,564.4 627.5,562.2 628.0,560.0 628.6,557.8 629.1,555.6 629.7,553.4 630.2,551.2 630.8,549.0 631.3,546.8 631.9,544.6 632.5,542.4 633.0,540.2 633.6,538.0 634.1,535.8 634.7,533.6 635.3,531.4 635.8,529.2 636.4,527.0 637.0,524.8 637.6,522.6 638.1,520.5 638.7,518.3 639.3,516.1 639.9,513.9 640.5,511.7 641.0,509.5 641.6,507.3 642.2,505.1 642.8,502.9 643.4,500.7 644.0,498.5 644.6,496.4 645.2,494.2 645.8,492.0 646.4,489.8 647.0,487.6 647.6,485.4 648.2,483.2 648.8,481.0 649.4,478.9 650.0,476.7 650.6,474.5 651.2,472.3 651.8,470.1 652.4,467.9 653.1,465.8 653.7,463.6 654.3,461.4 654.9,459.2 655.6,457.0 656.2,454.9 656.8,452.7 657.5,450.5 658.1,448.3 658.7,446.1 659.4,444.0 660.0,441.8 660.6,439.6 661.3,437.4 661.9,435.3 662.6,433.1 663.2,430.9 663.9,428.8 664.5,426.6 665.2,424.4 665.9,422.2 666.5,420.1 667.2,417.9 667.9,415.8 668.5,413.6 669.2,411.4 669.9,409.2 670.5,407.1 671.2,404.9 671.9,402.8 672.6,400.6 673.3,398.4 674.0,396.3 674.7,394.1 675.4,391.9 676.0,389.8 676.7,387.6 677.4,385.5 678.1,383.3 678.8,381.1 679.5,379.0 680.3,376.8 681.0,374.7 681.7,372.5 682.4,370.4 683.1,368.2 683.8,366.1 684.6,363.9 685.3,361.8 686.0,359.6 686.8,357.5 687.5,355.3 688.2,353.2 689.0,351.0 689.7,348.9 690.5,346.7 691.2,344.6 692.0,342.4 692.7,340.3 693.5,338.2 694.2,336.0 695.0,333.9 695.7,331.7 696.5,329.6 697.3,327.5 698.0,325.3 698.8,323.2 699.6,321.0 700.4,318.9 701.2,316.8 701.9,314.6 702.7,312.5 703.5,310.4 704.3,308.2 705.1,306.1 705.9,304.0 706.7,301.9 707.5,299.7 708.3,297.6 709.1,295.5 710.0,293.3 710.8,291.2 711.6,289.1 712.4,287.0 713.2,284.8 714.1,282.7 714.9,280.6 715.7,278.5 716.6,276.4 717.4,274.2 718.3,272.1 719.1,270.0 720.0,267.9 720.8,265.8 721.7,263.6 722.5,261.5 723.4,259.4 724.3,257.3 725.2,255.2 726.1,253.1 727.0,251.0 727.9,248.9 728.8,246.8 729.7,244.8 730.6,242.7 731.5,240.6 732.5,238.5 733.4,236.5 734.4,234.4 735.3,232.3 736.3,230.3 737.3,228.2 738.2,226.2 739.2,224.2 740.3,222.1 741.3,220.1 742.3,218.1 743.3,216.1 744.4,214.1 745.4,212.1 746.5,210.1 747.6,208.1 748.7,206.1 749.8,204.1 750.9,202.2 752.0,200.2 753.2,198.3 754.3,196.3 755.5,194.4 756.7,192.5 757.9,190.6 759.1,188.7 760.3,186.8 761.6,184.9 762.8,183.1 764.1,181.2 765.4,179.3 766.7,177.5 768.0,175.7 769.3,173.8 770.7,172.0 772.0,170.2 773.4,168.5 774.8,166.7 776.2,164.9 777.7,163.2 779.1,161.4 780.6,159.7 782.1,158.0 783.6,156.3 785.1,154.6 786.7,152.9 788.2,151.3 789.8,149.7 791.4,148.0 793.0,146.4 794.7,144.8 796.3,143.3 798.0,141.7 799.6,140.2 801.3,138.7 803.0,137.2 804.8,135.7 806.5,134.2 808.3,132.8 810.1,131.4 811.9,130.0 813.7,128.6 815.5,127.2 817.3,125.9 819.2,124.6 821.0,123.3 822.9,122.1 824.8,120.8 826.7,119.6 828.6,118.4 830.6,117.2 832.5,116.1 834.5,114.9 836.5,113.8 838.5,112.7 840.5,111.7 842.5,110.6 844.5,109.6 846.5,108.6 848.6,107.6 850.6,106.7 852.7,105.7 854.8,104.8 856.9,103.9 859.0,103.0 861.0,102.2 863.2,101.4 865.3,100.5 867.4,99.8 869.5,99.0 871.7,98.2 873.8,97.5 876.0,96.8 878.2,96.1 880.3,95.4 882.5,94.8 884.7,94.2 886.9,93.5 889.1,93.0 891.3,92.4 893.5,91.8 895.7,91.3 897.9,90.8 900.1,90.3 902.3,89.8 904.5,89.4 906.7,89.0 909.0,88.5 911.2,88.1 913.4,87.8 915.7,87.4 917.9,87.0 920.1,86.7 922.4,86.4 924.6,86.1 926.9,85.8 929.1,85.5 931.4,85.2 933.6,85.0 935.9,84.8 938.2,84.5 940.4,84.3 942.7,84.1 945.0,83.9 947.2,83.8 949.5,83.6 951.8,83.4 954.0,83.3 956.3,83.1 958.6,83.0 960.9,82.9 963.1,82.8 965.4,82.7 967.7,82.6 970.0,82.5 972.2,82.4 974.5,82.3 976.8,82.2 979.1,82.2 981.4,82.1 983.6,82.0 985.9,82.0 988.2,81.9 990.5,81.8 992.8,81.8 995.0,81.8 997.3,81.7 999.6,81.7 1001.9,81.6 1004.2,81.6 1006.5,81.5 1008.7,81.5 1011.0,81.4 1013.3,81.4 1015.5,81.3 1017.8,81.3 1020.1,81.2 1022.4,81.2 1024.6,81.1 1026.9,81.0 1029.2,81.0 1031.4,80.9 1033.7,80.8 1036.0,80.7 1038.2,80.6 1040.5,80.5 1042.7,80.4 1045.0,80.3 1047.2,80.2 1049.5,80.0 1051.7,79.9 1053.9,79.8 1056.2,79.7 1063.7,79.7 1063.7,87.2 1061.4,87.3 1059.2,87.4 1057.0,87.5 1054.7,87.7 1052.5,87.8 1050.2,87.9 1048.0,88.0 1045.7,88.1 1043.5,88.2 1041.2,88.3 1038.9,88.4 1036.7,88.5 1034.4,88.5 1032.1,88.6 1029.9,88.7 1027.6,88.7 1025.3,88.8 1023.0,88.8 1020.8,88.9 1018.5,88.9 1016.2,89.0 1014.0,89.0 1011.7,89.1 1009.4,89.1 1007.1,89.2 1004.8,89.2 1002.5,89.2 1000.3,89.3 998.0,89.3 995.7,89.4 993.4,89.5 991.1,89.5 988.9,89.6 986.6,89.7 984.3,89.7 982.0,89.8 979.7,89.9 977.5,90.0 975.2,90.1 972.9,90.2 970.6,90.3 968.4,90.4 966.1,90.5 963.8,90.6 961.5,90.8 959.3,90.9 957.0,91.1 954.7,91.3 952.5,91.4 950.2,91.6 947.9,91.8 945.7,92.0 943.4,92.3 941.1,92.5 938.9,92.8 936.6,93.0 934.4,93.3 932.1,93.6 929.9,93.9 927.6,94.2 925.4,94.5 923.2,94.9 920.9,95.2 918.7,95.6 916.5,96.0 914.2,96.5 912.0,96.9 909.8,97.3 907.6,97.8 905.4,98.3 903.2,98.8 901.0,99.3 898.8,99.9 896.6,100.5 894.4,101.0 892.2,101.7 890.0,102.3 887.8,102.9 885.7,103.6 883.5,104.3 881.3,105.0 879.2,105.7 877.0,106.5 874.9,107.3 872.8,108.0 870.7,108.9 868.5,109.7 866.5,110.5 864.4,111.4 862.3,112.3 860.2,113.2 858.1,114.2 856.1,115.1 854.0,116.1 852.0,117.1 850.0,118.1 848.0,119.2 846.0,120.2 844.0,121.3 842.0,122.4 840.0,123.6 838.1,124.7 836.1,125.9 834.2,127.1 832.3,128.3 830.4,129.6 828.5,130.8 826.7,132.1 824.8,133.4 823.0,134.8 821.2,136.1 819.4,137.5 817.6,138.9 815.8,140.3 814.0,141.7 812.3,143.2 810.5,144.7 808.8,146.2 807.1,147.7 805.5,149.2 803.8,150.8 802.2,152.3 800.5,153.9 798.9,155.5 797.3,157.2 795.8,158.8 794.2,160.4 792.6,162.1 791.1,163.8 789.6,165.5 788.1,167.2 786.6,168.9 785.2,170.7 783.8,172.4 782.3,174.2 780.9,176.0 779.5,177.7 778.2,179.5 776.8,181.3 775.5,183.2 774.2,185.0 772.9,186.8 771.6,188.7 770.3,190.6 769.1,192.4 767.8,194.3 766.6,196.2 765.4,198.1 764.2,200.0 763.0,201.9 761.8,203.8 760.7,205.8 759.5,207.7 758.4,209.7 757.3,211.6 756.2,213.6 755.1,215.6 754.0,217.6 752.9,219.6 751.9,221.6 750.8,223.6 749.8,225.6 748.8,227.6 747.8,229.6 746.8,231.7 745.8,233.7 744.8,235.7 743.8,237.8 742.8,239.8 741.9,241.9 740.9,244.0 740.0,246.0 739.0,248.1 738.1,250.2 737.2,252.3 736.3,254.3 735.4,256.4 734.5,258.5 733.6,260.6 732.7,262.7 731.8,264.8 730.9,266.9 730.0,269.0 729.2,271.1 728.3,273.3 727.5,275.4 726.6,277.5 725.8,279.6 724.9,281.7 724.1,283.9 723.2,286.0 722.4,288.1 721.6,290.2 720.7,292.3 719.9,294.5 719.1,296.6 718.3,298.7 717.5,300.8 716.6,303.0 715.8,305.1 715.0,307.2 714.2,309.4 713.4,311.5 712.6,313.6 711.8,315.7 711.0,317.9 710.2,320.0 709.4,322.1 708.7,324.3 707.9,326.4 707.1,328.5 706.3,330.7 705.5,332.8 704.8,335.0 704.0,337.1 703.2,339.2 702.5,341.4 701.7,343.5 701.0,345.7 700.2,347.8 699.5,349.9 698.7,352.1 698.0,354.2 697.2,356.4 696.5,358.5 695.7,360.7 695.0,362.8 694.2,365.0 693.5,367.1 692.8,369.3 692.1,371.4 691.3,373.6 690.6,375.7 689.9,377.9 689.2,380.0 688.5,382.2 687.8,384.3 687.0,386.5 686.3,388.6 685.6,390.8 684.9,393.0 684.2,395.1 683.5,397.3 682.9,399.4 682.2,401.6 681.5,403.8 680.8,405.9 680.1,408.1 679.4,410.2 678.7,412.4 678.0,414.6 677.4,416.8 676.7,418.9 676.0,421.1 675.4,423.2 674.7,425.4 674.0,427.6 673.4,429.8 672.7,431.9 672.0,434.1 671.4,436.3 670.7,438.4 670.1,440.6 669.4,442.8 668.8,444.9 668.1,447.1 667.5,449.3 666.9,451.5 666.2,453.6 665.6,455.8 665.0,458.0 664.3,460.2 663.7,462.4 663.1,464.5 662.4,466.7 661.8,468.9 661.2,471.1 660.6,473.3 659.9,475.4 659.3,477.6 658.7,479.8 658.1,482.0 657.5,484.2 656.9,486.4 656.3,488.5 655.7,490.7 655.1,492.9 654.5,495.1 653.9,497.3 653.3,499.5 652.7,501.7 652.1,503.9 651.5,506.0 650.9,508.2 650.3,510.4 649.7,512.6 649.1,514.8 648.5,517.0 648.0,519.2 647.4,521.4 646.8,523.6 646.2,525.8 645.6,528.0 645.1,530.1 644.5,532.3 643.9,534.5 643.3,536.7 642.8,538.9 642.2,541.1 641.6,543.3 641.1,545.5 640.5,547.7 640.0,549.9 639.4,552.1 638.8,554.3 638.3,556.5 637.7,558.7 637.2,560.9 636.6,563.1 636.1,565.3 635.5,567.5 635.0,569.7 634.4,571.9 633.9,574.1 633.3,576.3 632.8,578.5 632.3,580.7 631.7,583.0 631.2,585.1 630.6,587.4 630.1,589.6 629.6,591.8 629.0,594.0 628.5,596.2 628.0,598.4 627.5,600.6 626.9,602.8 626.4,605.0 625.9,607.2 625.3,609.4 624.8,611.6 624.3,613.9 623.8,616.1 623.2,618.3 622.7,620.5 622.2,622.7 621.7,624.9 621.2,627.1 620.7,629.3 620.1,631.5 619.6,633.8 619.1,636.0 618.6,638.2 618.1,640.4 617.6,642.6 617.1,644.8 616.6,647.0 616.1,649.2 615.6,651.5 615.1,653.7 614.6,655.9 614.1,658.1 613.6,660.3 613.1,662.5 612.6,664.8 612.1,667.0 611.6,669.2 611.1,671.4 610.6,673.6 610.1,675.8 609.6,678.0 609.1,680.3 608.6,682.5 608.1,684.7 607.6,686.9 607.1,689.1 606.6,691.4 606.1,693.6 605.6,695.8 605.2,698.0 604.7,700.2 604.2,702.5 603.7,704.7 603.2,706.9 602.7,709.1 602.2,711.3 601.8,713.5 601.3,715.8 600.8,718.0 600.3,720.2 599.8,722.4 599.3,724.6 598.9,726.9 598.4,729.1 597.9,731.3 597.4,733.5 596.9,735.8 596.5,738.0 596.0,740.2 595.5,742.4 595.0,744.6 594.5,746.9 594.1,749.1 593.6,751.3 593.1,753.5 592.6,755.8 592.2,758.0 591.7,760.2 591.2,762.4 590.7,764.6 590.3,766.9 589.8,769.1 589.3,771.3 588.8,773.5 588.4,775.8 587.9,778.0 587.4,780.2 586.9,782.4 586.5,784.6 586.0,786.9 585.5,789.1 585.0,791.3 584.6,793.5 584.1,795.8 583.6,798.0 583.2,800.2 582.7,802.4 582.2,804.6 581.8,806.9 581.3,809.1 580.8,811.3 580.3,813.5 579.9,815.8 579.4,818.0 578.9,820.2 578.4,822.4 578.0,824.6 577.5,826.9 577.0,829.1 576.5,831.3 576.1,833.5 575.6,835.8 575.1,838.0 574.7,840.2 574.2,842.4 573.7,844.6 573.2,846.9 572.8,849.1 572.3,851.3 571.8,853.5 571.3,855.8 570.9,858.0 570.4,860.2 569.9,862.4 569.4,864.6 569.0,866.9 568.5,869.1 568.0,871.3 567.5,873.5 567.0,875.7 566.6,878.0 566.1,880.2 565.6,882.4 565.1,884.6 564.7,886.8 564.2,889.1 563.7,891.3 563.2,893.5 562.7,895.7 562.2,897.9 561.8,900.1 561.3,902.4 560.8,904.6 560.3,906.8 559.8,909.0 559.4,911.2 558.9,913.5 558.4,915.7 557.9,917.9 557.4,920.1 556.9,922.3 556.4,924.5 555.9,926.8 555.5,929.0 555.0,931.2 554.5,933.4 554.0,935.6 553.5,937.8 553.0,940.0 552.5,942.3 552.0,944.5 551.5,946.7 551.0,948.9 550.5,951.1 550.0,953.3 549.5,955.5 549.0,957.8 548.5,960.0 548.0,962.2 547.5,964.4 547.0,966.6 546.5,968.8 546.0,971.0 545.5,973.2 545.0,975.4 544.5,977.6 544.0,979.9 543.5,982.1 542.9,984.3 542.4,986.5 541.9,988.7 541.4,990.9 540.9,993.1 540.4,995.3 539.9,997.5 539.3,999.7 538.8,1001.9 538.3,1004.1 537.8,1006.3 537.3,1008.5 536.7,1010.8 536.2,1013.0 535.7,1015.2 535.2,1017.4 534.6,1019.6 534.1,1021.8 533.6,1024.0 533.0,1026.2 532.5,1028.4 532.0,1030.6 531.5,1032.8 530.9,1035.0 530.4,1037.2 529.9,1039.4 529.3,1041.6 528.8,1043.8 528.2,1046.0 527.7,1048.2 527.1,1050.4 526.6,1052.6 526.1,1054.8 525.5,1057.0 525.0,1059.2 524.4,1061.4 523.9,1063.6 523.3,1065.8 522.8,1068.0 522.2,1070.2 521.7,1072.4 521.1,1074.6 520.6,1076.8 520.0,1079.0 519.5,1081.2 518.9,1083.4 518.3,1085.6 517.8,1087.8 517.2,1090.0 516.7,1092.2 516.1,1094.4 515.5,1096.6 515.0,1098.8 514.4,1101.0 513.8,1103.2 513.3,1105.4 512.7,1107.5 512.1,1109.8 511.6,1111.9 511.0,1114.1 510.4,1116.3 509.8,1118.5 509.2,1120.7 508.7,1122.9 508.1,1125.1 507.5,1127.3 506.9,1129.5 506.3,1131.7 505.8,1133.9 505.2,1136.1 504.6,1138.3 504.0,1140.5 503.4,1142.7 502.8,1144.9 502.2,1147.1 501.6,1149.3 501.0,1151.5 500.4,1153.7 499.9,1155.9 499.2,1158.0 498.6,1160.2 498.1,1162.4 497.4,1164.6 496.9,1166.8 496.2,1169.0 495.6,1171.2 495.0,1173.4 494.4,1175.6 493.8,1177.8 493.2,1180.0 492.6,1182.2 492.0,1184.4 491.4,1186.6 490.8,1188.8 490.1,1191.0 489.5,1193.2 488.9,1195.4 488.3,1197.6 487.6,1199.8 487.0,1202.0 486.4,1204.1 485.8,1206.3 485.1,1208.5 484.5,1210.7 483.9,1212.9 483.3,1215.1 482.6,1217.3 482.0,1219.5 481.3,1221.7 480.7,1223.9 480.1,1226.1 479.4,1228.3 478.7,1230.5 478.1,1232.6 477.4,1234.8 476.8,1237.0 476.1,1239.2 475.4,1241.4 474.7,1243.5 474.0,1245.7 473.3,1247.9 472.6,1250.0 471.9,1252.2 471.2,1254.4 470.5,1256.5 469.8,1258.7 469.0,1260.9 468.3,1263.0 467.6,1265.2 466.8,1267.3 466.0,1269.4 465.3,1271.6 464.5,1273.7 463.7,1275.8 462.9,1278.0 462.1,1280.1 461.3,1282.2 460.5,1284.3 459.6,1286.4 458.8,1288.5 457.9,1290.6 457.1,1292.7 456.2,1294.8 455.3,1296.9 454.4,1299.0 453.5,1301.0 452.6,1303.1 451.7,1305.2 450.7,1307.2 449.8,1309.3 448.8,1311.3 447.8,1313.3 446.9,1315.4 445.9,1317.4 444.8,1319.4 443.8,1321.4 442.8,1323.4 441.7,1325.4 440.6,1327.4 439.5,1329.4 438.4,1331.3 437.3,1333.3 436.2,1335.3 435.1,1337.2 433.9,1339.2 432.7,1341.1 431.5,1343.0 430.3,1344.9 429.1,1346.8 427.8,1348.7 426.5,1350.5 425.2,1352.4 423.9,1354.2 422.5,1356.0 421.1,1357.7 419.7,1359.5 418.2,1361.2 416.8,1362.9 415.2,1364.6 413.7,1366.2 412.1,1367.8 410.5,1369.4 408.8,1370.9 407.1,1372.4 405.4,1373.9 403.6,1375.3 401.8,1376.7 400.0,1378.1 398.1,1379.4 396.1,1380.7 394.1,1381.9" fill="#0000dd"/>
</g>
<g fill="#000">
<rect x="370.7" y="79" width="6" height="1324.4"/>
<rect x="348.6" y="1376.3" width="1724.0" height="5.4"/>
<rect x="348.6" y="1115.9" width="24.9" height="7.4"/>
<rect x="348.6" y="856.8" width="24.9" height="7.4"/>
<rect x="348.6" y="597.8" width="24.9" height="7.4"/>
<rect x="348.6" y="338.7" width="24.9" height="7.4"/>
<rect x="709.0" y="1378.6" width="7.4" height="24.8"/>
<rect x="1048.2" y="1378.6" width="7.4" height="24.8"/>
<rect x="1387.4" y="1378.6" width="7.4" height="24.8"/>
<rect x="1726.6" y="1378.6" width="7.4" height="24.8"/>
<rect x="2066.5" y="1378.6" width="6" height="24.8"/>
</g>
<g fill="#000">
<rect x="348.6" y="79.1" width="1724.0" height="8.3"/>
<rect x="2066.5" y="79.1" width="6" height="1324.3000000000002"/>
</g>
<g font-size="84.2" fill="#000">
<text transform="translate(323.5,1400.6) scale(1,1.04)" text-anchor="end">0</text>
<text transform="translate(323.5,1141.6) scale(1,1.04)" text-anchor="end">0.2</text>
<text transform="translate(323.5,882.5) scale(1,1.04)" text-anchor="end">0.4</text>
<text transform="translate(323.5,623.5) scale(1,1.04)" text-anchor="end">0.6</text>
<text transform="translate(323.5,364.4) scale(1,1.04)" text-anchor="end">0.8</text>
<text transform="translate(323.5,105.4) scale(1,1.04)" text-anchor="end">1</text>
<text transform="translate(374.3,1497) scale(1,1.04)" text-anchor="middle">0</text>
<text transform="translate(713.5,1497) scale(1,1.04)" text-anchor="middle">500</text>
<text transform="translate(1052.7,1497) scale(1,1.04)" text-anchor="middle">1000</text>
<text transform="translate(1391.9,1497) scale(1,1.04)" text-anchor="middle">1500</text>
<text transform="translate(1731.1,1497) scale(1,1.04)" text-anchor="middle">2000</text>
<text transform="translate(2070.3,1497) scale(1,1.04)" text-anchor="middle">2500</text>
</g>
<text transform="translate(1137,1590) scale(1,1.08)" font-size="100" font-style="italic" fill="#000">t</text>
<text transform="translate(1189.9,1590) scale(1,0.945)" font-size="102.5" fill="#000">(s)</text>
<g transform="translate(106.4,821.5) rotate(-90)"><text x="0" y="0" font-size="104.5" font-style="italic" fill="#000">X</text><text transform="translate(64.8,50.8) scale(0.92,1)" font-size="67" font-style="italic" fill="#000">iso</text></g>
<rect x="1347" y="744.70" width="248.2" height="9" fill="#ff0000"/>
<text transform="translate(1618.7,780.5) scale(1,1.04)" font-size="84.2" fill="#ff0000">PLA-B</text>
<rect x="1347" y="921.95" width="248.2" height="6.5" fill="#0000dd"/>
<text transform="translate(1618.7,956) scale(1,1.04)" font-size="84.2" fill="#0000dd">PLA-BZnO</text>
<rect x="1347" y="1096.65" width="248.2" height="9.5" fill="#008000"/>
<text transform="translate(1618.7,1131.7) scale(1,1.04)" font-size="84.2" fill="#008000">PLA-G</text>
<rect x="1347" y="1273.75" width="248.2" height="6.5" fill="#ff6600"/>
<text transform="translate(1618.7,1307) scale(1,1.04)" font-size="84.2" fill="#ff6600">PLA</text>
</svg>
</body></html>
